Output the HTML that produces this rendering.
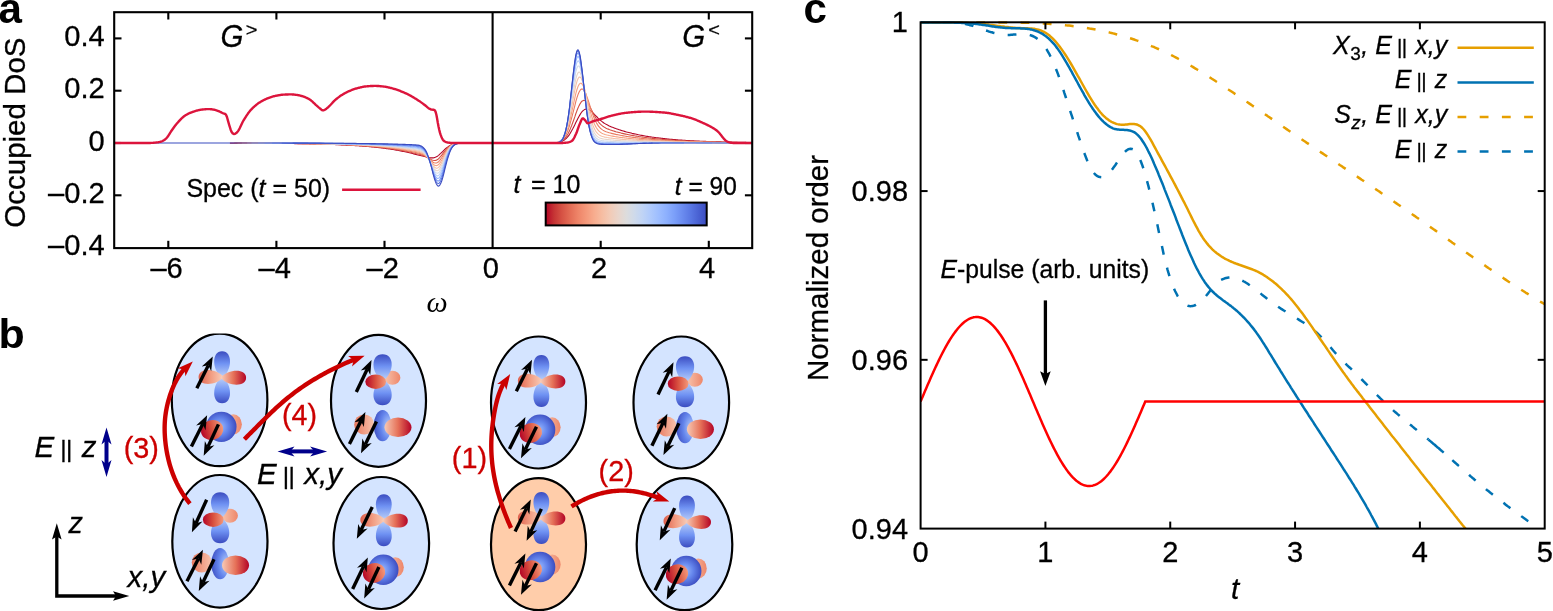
<!DOCTYPE html>
<html lang="en"><head><meta charset="utf-8"><title>Figure</title>
<style>
html,body{margin:0;padding:0;background:#fff;}
body{width:1553px;height:611px;overflow:hidden;}
svg{display:block;}
text{font-family:"Liberation Sans", sans-serif;}
.i{font-style:italic;}
.b{font-weight:bold;}
.om{font-family:"Liberation Serif","DejaVu Serif",serif;font-style:italic;}
</style></head><body>
<svg width="1553" height="611" viewBox="0 0 1553 611">
<rect x="0" y="0" width="1553" height="611" fill="#fff"/>

<defs>
<linearGradient id="cbar" x1="0" y1="0" x2="1" y2="0"><stop offset="0.000" stop-color="#b40426"/><stop offset="0.050" stop-color="#c53334"/><stop offset="0.100" stop-color="#d65244"/><stop offset="0.150" stop-color="#e36c55"/><stop offset="0.200" stop-color="#ee8468"/><stop offset="0.250" stop-color="#f4987a"/><stop offset="0.300" stop-color="#f7ac8e"/><stop offset="0.350" stop-color="#f6bda2"/><stop offset="0.400" stop-color="#f2cbb7"/><stop offset="0.450" stop-color="#e9d5cb"/><stop offset="0.500" stop-color="#dddcdc"/><stop offset="0.550" stop-color="#cfdaea"/><stop offset="0.600" stop-color="#c0d4f5"/><stop offset="0.650" stop-color="#afcafc"/><stop offset="0.700" stop-color="#9ebeff"/><stop offset="0.750" stop-color="#8db0fe"/><stop offset="0.800" stop-color="#7b9ff9"/><stop offset="0.850" stop-color="#6a8bef"/><stop offset="0.900" stop-color="#5977e3"/><stop offset="0.950" stop-color="#4961d2"/><stop offset="1.000" stop-color="#3b4cc0"/></linearGradient>

<linearGradient id="gPB" x1="0" y1="0" x2="0" y2="1"><stop offset="0" stop-color="#3b4cc0"/><stop offset="0.45" stop-color="#6f92f3"/><stop offset="1" stop-color="#c3d6f8"/></linearGradient>
<linearGradient id="gPR" x1="0" y1="0" x2="0" y2="1"><stop offset="0" stop-color="#b40426"/><stop offset="0.5" stop-color="#e67259"/><stop offset="1" stop-color="#f8d0bd"/></linearGradient>
<linearGradient id="gPL" x1="0" y1="0" x2="0" y2="1"><stop offset="0" stop-color="#de604d"/><stop offset="0.5" stop-color="#f29d82"/><stop offset="1" stop-color="#f8d0bd"/></linearGradient>
<linearGradient id="gBT" x1="0" y1="0" x2="0" y2="1"><stop offset="0" stop-color="#3b4cc0"/><stop offset="0.45" stop-color="#6f92f3"/><stop offset="1" stop-color="#bcd2f7"/></linearGradient>
<linearGradient id="gBB" x1="0" y1="1" x2="0" y2="0"><stop offset="0" stop-color="#3b4cc0"/><stop offset="0.45" stop-color="#6f92f3"/><stop offset="1" stop-color="#bcd2f7"/></linearGradient>
<linearGradient id="gRR" x1="0" y1="0" x2="1" y2="0"><stop offset="0" stop-color="#f7c9b4"/><stop offset="0.5" stop-color="#e67259"/><stop offset="1" stop-color="#b40426"/></linearGradient>
<linearGradient id="gRL" x1="0" y1="0" x2="1" y2="0"><stop offset="0" stop-color="#e0654f"/><stop offset="0.5" stop-color="#f29d82"/><stop offset="1" stop-color="#f7c9b4"/></linearGradient>
<linearGradient id="gRF" x1="0" y1="0" x2="1" y2="0"><stop offset="0" stop-color="#b40426"/><stop offset="0.5" stop-color="#d9513f"/><stop offset="1" stop-color="#f4997b"/></linearGradient>
<radialGradient id="gSal" cx="0.5" cy="0.5" r="0.6"><stop offset="0" stop-color="#f8cdb9"/><stop offset="1" stop-color="#ee8669"/></radialGradient>
<linearGradient id="gSalL" x1="0" y1="0" x2="1" y2="0"><stop offset="0" stop-color="#e8775d"/><stop offset="1" stop-color="#f7c4ad"/></linearGradient>
<linearGradient id="gSalR" x1="0" y1="0" x2="1" y2="0"><stop offset="0" stop-color="#f7c4ad"/><stop offset="1" stop-color="#ee8669"/></linearGradient>
<radialGradient id="gSph" cx="0.45" cy="0.5" r="0.55"><stop offset="0" stop-color="#9dbdff"/><stop offset="0.5" stop-color="#6485ec"/><stop offset="1" stop-color="#3b4cc0"/></radialGradient>
<radialGradient id="gBV" cx="0.85" cy="0.5" r="0.9"><stop offset="0" stop-color="#b5cdfa"/><stop offset="0.5" stop-color="#6485ec"/><stop offset="1" stop-color="#3b4cc0"/></radialGradient>

</defs>
<g id="panel-a">
<line x1="168.30" y1="248.1" x2="168.30" y2="240.79999999999998" stroke="#000" stroke-width="2.1"/>
<line x1="168.30" y1="12.2" x2="168.30" y2="19.5" stroke="#000" stroke-width="2.1"/>
<line x1="276.40" y1="248.1" x2="276.40" y2="240.79999999999998" stroke="#000" stroke-width="2.1"/>
<line x1="276.40" y1="12.2" x2="276.40" y2="19.5" stroke="#000" stroke-width="2.1"/>
<line x1="384.50" y1="248.1" x2="384.50" y2="240.79999999999998" stroke="#000" stroke-width="2.1"/>
<line x1="384.50" y1="12.2" x2="384.50" y2="19.5" stroke="#000" stroke-width="2.1"/>
<line x1="600.70" y1="248.1" x2="600.70" y2="240.79999999999998" stroke="#000" stroke-width="2.1"/>
<line x1="600.70" y1="12.2" x2="600.70" y2="19.5" stroke="#000" stroke-width="2.1"/>
<line x1="708.80" y1="248.1" x2="708.80" y2="240.79999999999998" stroke="#000" stroke-width="2.1"/>
<line x1="708.80" y1="12.2" x2="708.80" y2="19.5" stroke="#000" stroke-width="2.1"/>
<line x1="114.2" y1="195.30" x2="121.5" y2="195.30" stroke="#000" stroke-width="2.1"/>
<line x1="752.2" y1="195.30" x2="744.9000000000001" y2="195.30" stroke="#000" stroke-width="2.1"/>
<line x1="114.2" y1="143.00" x2="121.5" y2="143.00" stroke="#000" stroke-width="2.1"/>
<line x1="752.2" y1="143.00" x2="744.9000000000001" y2="143.00" stroke="#000" stroke-width="2.1"/>
<line x1="114.2" y1="90.70" x2="121.5" y2="90.70" stroke="#000" stroke-width="2.1"/>
<line x1="752.2" y1="90.70" x2="744.9000000000001" y2="90.70" stroke="#000" stroke-width="2.1"/>
<line x1="114.2" y1="38.40" x2="121.5" y2="38.40" stroke="#000" stroke-width="2.1"/>
<line x1="752.2" y1="38.40" x2="744.9000000000001" y2="38.40" stroke="#000" stroke-width="2.1"/>
<path d="M229.9,143.12 L231.0,143.12 L232.1,143.12 L233.2,143.13 L234.2,143.13 L235.3,143.13 L236.4,143.14 L237.5,143.14 L238.6,143.15 L239.6,143.15 L240.7,143.15 L241.8,143.16 L242.9,143.16 L244.0,143.17 L245.1,143.17 L246.1,143.17 L247.2,143.18 L248.3,143.18 L249.4,143.19 L250.5,143.19 L251.5,143.20 L252.6,143.21 L253.7,143.21 L254.8,143.22 L255.9,143.22 L256.9,143.23 L258.0,143.23 L259.1,143.24 L260.2,143.25 L261.3,143.25 L262.3,143.26 L263.4,143.27 L264.5,143.28 L265.6,143.28 L266.7,143.29 L267.8,143.30 L268.8,143.31 L269.9,143.31 L271.0,143.32 L272.1,143.33 L273.2,143.34 L274.2,143.35 L275.3,143.36 L276.4,143.37 L277.5,143.38 L278.6,143.39 L279.6,143.40 L280.7,143.41 L281.8,143.42 L282.9,143.43 L284.0,143.44 L285.0,143.46 L286.1,143.47 L287.2,143.48 L288.3,143.49 L289.4,143.51 L290.5,143.52 L291.5,143.54 L292.6,143.55 L293.7,143.57 L294.8,143.58 L295.9,143.60 L296.9,143.61 L298.0,143.63 L299.1,143.65 L300.2,143.66 L301.3,143.68 L302.3,143.70 L303.4,143.72 L304.5,143.74 L305.6,143.76 L306.7,143.78 L307.7,143.80 L308.8,143.82 L309.9,143.84 L311.0,143.87 L312.1,143.89 L313.2,143.91 L314.2,143.94 L315.3,143.96 L316.4,143.99 L317.5,144.02 L318.6,144.04 L319.6,144.07 L320.7,144.10 L321.8,144.13 L322.9,144.16 L324.0,144.19 L325.0,144.22 L326.1,144.26 L327.2,144.29 L328.3,144.33 L329.4,144.36 L330.5,144.40 L331.5,144.44 L332.6,144.48 L333.7,144.52 L334.8,144.56 L335.9,144.60 L336.9,144.64 L338.0,144.69 L339.1,144.73 L340.2,144.78 L341.3,144.83 L342.3,144.88 L343.4,144.93 L344.5,144.98 L345.6,145.03 L346.7,145.09 L347.7,145.14 L348.8,145.20 L349.9,145.26 L351.0,145.32 L352.1,145.39 L353.2,145.45 L354.2,145.52 L355.3,145.58 L356.4,145.65 L357.5,145.73 L358.6,145.80 L359.6,145.88 L360.7,145.95 L361.8,146.03 L362.9,146.12 L364.0,146.20 L365.0,146.29 L366.1,146.37 L367.2,146.47 L368.3,146.56 L369.4,146.66 L370.4,146.75 L371.5,146.86 L372.6,146.96 L373.7,147.07 L374.8,147.18 L375.9,147.29 L376.9,147.41 L378.0,147.52 L379.1,147.65 L380.2,147.77 L381.3,147.90 L382.3,148.03 L383.4,148.17 L384.5,148.31 L385.6,148.45 L386.7,148.60 L387.7,148.75 L388.8,148.91 L389.9,149.07 L391.0,149.23 L392.1,149.40 L393.1,149.57 L394.2,149.75 L395.3,149.93 L396.4,150.12 L397.5,150.31 L398.6,150.51 L399.6,150.71 L400.7,150.92 L401.8,151.14 L402.9,151.35 L404.0,151.58 L405.0,151.81 L406.1,152.05 L407.2,152.29 L408.3,152.54 L409.4,152.79 L410.4,153.05 L411.5,153.31 L412.6,153.58 L413.7,153.85 L414.8,154.13 L415.8,154.40 L416.9,154.67 L418.0,154.95 L419.1,155.22 L420.2,155.49 L421.3,155.76 L422.3,156.03 L423.4,156.30 L424.5,156.57 L425.6,156.84 L426.7,157.10 L427.7,157.34 L428.8,157.57 L429.9,157.75 L431.0,157.87 L432.1,157.91 L433.1,157.84 L434.2,157.64 L435.3,157.30 L436.4,156.81 L437.5,156.16 L438.6,155.37 L439.6,154.45 L440.7,153.45 L441.8,152.38 L442.9,151.30 L444.0,150.22 L445.0,149.19 L446.1,148.23 L447.2,147.36 L448.3,146.59 L449.4,145.91 L450.4,145.34 L451.5,144.86 L452.6,144.46 L453.7,144.14 L454.8,143.88 L455.8,143.67 L456.9,143.51 L458.0,143.38 L459.1,143.28 L460.2,143.21 L461.3,143.15 L462.3,143.11 M553.1,142.89 L554.2,142.84 L555.3,142.77 L556.4,142.67 L557.5,142.53 L558.5,142.35 L559.6,142.11 L560.7,141.79 L561.8,141.38 L562.9,140.86 L563.9,140.22 L565.0,139.43 L566.1,138.49 L567.2,137.37 L568.3,136.07 L569.4,134.59 L570.4,132.92 L571.5,131.09 L572.6,129.10 L573.7,127.00 L574.8,124.81 L575.8,122.59 L576.9,120.38 L578.0,118.24 L579.1,116.22 L580.2,114.38 L581.2,112.76 L582.3,111.41 L583.4,110.34 L584.5,109.59 L585.6,109.14 L586.6,109.01 L587.7,109.15 L588.8,109.56 L589.9,110.19 L591.0,111.00 L592.1,111.96 L593.1,113.01 L594.2,114.13 L595.3,115.27 L596.4,116.40 L597.5,117.51 L598.5,118.57 L599.6,119.57 L600.7,120.51 L601.8,121.39 L602.9,122.19 L603.9,122.94 L605.0,123.63 L606.1,124.27 L607.2,124.86 L608.3,125.41 L609.3,125.93 L610.4,126.42 L611.5,126.89 L612.6,127.34 L613.7,127.76 L614.8,128.17 L615.8,128.57 L616.9,128.96 L618.0,129.33 L619.1,129.69 L620.2,130.04 L621.2,130.38 L622.3,130.72 L623.4,131.04 L624.5,131.35 L625.6,131.66 L626.6,131.96 L627.7,132.25 L628.8,132.53 L629.9,132.81 L631.0,133.08 L632.0,133.34 L633.1,133.59 L634.2,133.84 L635.3,134.08 L636.4,134.31 L637.5,134.54 L638.5,134.77 L639.6,134.98 L640.7,135.19 L641.8,135.40 L642.9,135.60 L643.9,135.79 L645.0,135.98 L646.1,136.17 L647.2,136.35 L648.3,136.52 L649.3,136.69 L650.4,136.86 L651.5,137.02 L652.6,137.18 L653.7,137.33 L654.8,137.48 L655.8,137.63 L656.9,137.77 L658.0,137.90 L659.1,138.04 L660.2,138.17 L661.2,138.30 L662.3,138.42 L663.4,138.54 L664.5,138.66 L665.6,138.77 L666.6,138.88 L667.7,138.99 L668.8,139.10 L669.9,139.20 L671.0,139.30 L672.0,139.40 L673.1,139.49 L674.2,139.58 L675.3,139.67 L676.4,139.76 L677.5,139.85 L678.5,139.93 L679.6,140.01 L680.7,140.09 L681.8,140.17 L682.9,140.24 L683.9,140.31 L685.0,140.38 L686.1,140.45 L687.2,140.52 L688.3,140.59 L689.3,140.65 L690.4,140.71 L691.5,140.77 L692.6,140.83 L693.7,140.89 L694.7,140.94 L695.8,141.00 L696.9,141.05 L698.0,141.10 L699.1,141.15 L700.2,141.20 L701.2,141.25 L702.3,141.29 L703.4,141.34 L704.5,141.38 L705.6,141.42 L706.6,141.47 L707.7,141.51 L708.8,141.55 L709.9,141.58 L711.0,141.62 L712.0,141.66 L713.1,141.69 L714.2,141.73 L715.3,141.76 L716.4,141.79 L717.4,141.82 L718.5,141.86 L719.6,141.89 L720.7,141.91 L721.8,141.94 L722.9,141.97 L723.9,142.00 L725.0,142.02 L726.1,142.05 L727.2,142.08 L728.3,142.10 L729.3,142.12 L730.4,142.15 L731.5,142.17 L732.6,142.19 L733.7,142.21 L734.7,142.23 L735.8,142.25 L736.9,142.27 L738.0,142.29 L739.1,142.31 L740.1,142.33 L741.2,142.35 L742.3,142.36 L743.4,142.38 L744.5,142.40 L745.6,142.41 L746.6,142.43 L747.7,142.44 L748.8,142.46 L749.9,142.47 L751.0,142.49 L752.0,142.50" fill="none" stroke="#b40426" stroke-width="1.1" stroke-linejoin="round"/>
<path d="M234.2,143.12 L235.3,143.12 L236.4,143.13 L237.5,143.13 L238.6,143.13 L239.6,143.14 L240.7,143.14 L241.8,143.14 L242.9,143.15 L244.0,143.15 L245.1,143.16 L246.1,143.16 L247.2,143.16 L248.3,143.17 L249.4,143.17 L250.5,143.18 L251.5,143.18 L252.6,143.19 L253.7,143.19 L254.8,143.20 L255.9,143.20 L256.9,143.21 L258.0,143.21 L259.1,143.22 L260.2,143.23 L261.3,143.23 L262.3,143.24 L263.4,143.25 L264.5,143.25 L265.6,143.26 L266.7,143.27 L267.8,143.27 L268.8,143.28 L269.9,143.29 L271.0,143.30 L272.1,143.30 L273.2,143.31 L274.2,143.32 L275.3,143.33 L276.4,143.34 L277.5,143.35 L278.6,143.36 L279.6,143.37 L280.7,143.38 L281.8,143.39 L282.9,143.40 L284.0,143.41 L285.0,143.42 L286.1,143.43 L287.2,143.44 L288.3,143.45 L289.4,143.46 L290.5,143.48 L291.5,143.49 L292.6,143.50 L293.7,143.52 L294.8,143.53 L295.9,143.55 L296.9,143.56 L298.0,143.58 L299.1,143.59 L300.2,143.61 L301.3,143.62 L302.3,143.64 L303.4,143.66 L304.5,143.68 L305.6,143.69 L306.7,143.71 L307.7,143.73 L308.8,143.75 L309.9,143.77 L311.0,143.79 L312.1,143.81 L313.2,143.84 L314.2,143.86 L315.3,143.88 L316.4,143.91 L317.5,143.93 L318.6,143.96 L319.6,143.98 L320.7,144.01 L321.8,144.03 L322.9,144.06 L324.0,144.09 L325.0,144.12 L326.1,144.15 L327.2,144.18 L328.3,144.21 L329.4,144.25 L330.5,144.28 L331.5,144.32 L332.6,144.35 L333.7,144.39 L334.8,144.42 L335.9,144.46 L336.9,144.50 L338.0,144.54 L339.1,144.59 L340.2,144.63 L341.3,144.67 L342.3,144.72 L343.4,144.76 L344.5,144.81 L345.6,144.86 L346.7,144.91 L347.7,144.96 L348.8,145.02 L349.9,145.07 L351.0,145.13 L352.1,145.18 L353.2,145.24 L354.2,145.30 L355.3,145.36 L356.4,145.43 L357.5,145.49 L358.6,145.56 L359.6,145.63 L360.7,145.70 L361.8,145.78 L362.9,145.85 L364.0,145.93 L365.0,146.01 L366.1,146.09 L367.2,146.17 L368.3,146.26 L369.4,146.34 L370.4,146.44 L371.5,146.53 L372.6,146.62 L373.7,146.72 L374.8,146.82 L375.9,146.93 L376.9,147.03 L378.0,147.14 L379.1,147.25 L380.2,147.37 L381.3,147.49 L382.3,147.61 L383.4,147.73 L384.5,147.86 L385.6,147.99 L386.7,148.12 L387.7,148.26 L388.8,148.41 L389.9,148.55 L391.0,148.70 L392.1,148.86 L393.1,149.01 L394.2,149.18 L395.3,149.34 L396.4,149.51 L397.5,149.69 L398.6,149.87 L399.6,150.06 L400.7,150.25 L401.8,150.44 L402.9,150.64 L404.0,150.85 L405.0,151.06 L406.1,151.28 L407.2,151.50 L408.3,151.73 L409.4,151.96 L410.4,152.20 L411.5,152.44 L412.6,152.69 L413.7,152.94 L414.8,153.19 L415.8,153.45 L416.9,153.71 L418.0,153.98 L419.1,154.26 L420.2,154.56 L421.3,154.88 L422.3,155.23 L423.4,155.61 L424.5,156.04 L425.6,156.53 L426.7,157.06 L427.7,157.64 L428.8,158.25 L429.9,158.86 L431.0,159.43 L432.1,159.93 L433.1,160.29 L434.2,160.47 L435.3,160.43 L436.4,160.14 L437.5,159.58 L438.6,158.75 L439.6,157.70 L440.7,156.46 L441.8,155.08 L442.9,153.64 L444.0,152.19 L445.0,150.79 L446.1,149.49 L447.2,148.31 L448.3,147.28 L449.4,146.40 L450.4,145.66 L451.5,145.06 L452.6,144.58 L453.7,144.20 L454.8,143.90 L455.8,143.67 L456.9,143.50 L458.0,143.37 L459.1,143.27 L460.2,143.20 L461.3,143.14 L462.3,143.10 M553.1,142.88 L554.2,142.82 L555.3,142.74 L556.4,142.62 L557.5,142.44 L558.5,142.21 L559.6,141.89 L560.7,141.46 L561.8,140.91 L562.9,140.19 L563.9,139.29 L565.0,138.17 L566.1,136.81 L567.2,135.18 L568.3,133.27 L569.4,131.09 L570.4,128.63 L571.5,125.93 L572.6,123.03 L573.7,119.98 L574.8,116.88 L575.8,113.79 L576.9,110.82 L578.0,108.07 L579.1,105.63 L580.2,103.59 L581.2,102.01 L582.3,100.95 L583.4,100.42 L584.5,100.43 L585.6,100.96 L586.6,101.94 L587.7,103.31 L588.8,105.00 L589.9,106.91 L591.0,108.97 L592.1,111.09 L593.1,113.20 L594.2,115.24 L595.3,117.16 L596.4,118.94 L597.5,120.55 L598.5,121.99 L599.6,123.27 L600.7,124.38 L601.8,125.35 L602.9,126.20 L603.9,126.93 L605.0,127.58 L606.1,128.15 L607.2,128.67 L608.3,129.13 L609.3,129.56 L610.4,129.96 L611.5,130.33 L612.6,130.69 L613.7,131.03 L614.8,131.35 L615.8,131.66 L616.9,131.97 L618.0,132.26 L619.1,132.54 L620.2,132.82 L621.2,133.09 L622.3,133.35 L623.4,133.60 L624.5,133.85 L625.6,134.09 L626.6,134.32 L627.7,134.55 L628.8,134.77 L629.9,134.98 L631.0,135.19 L632.0,135.39 L633.1,135.59 L634.2,135.78 L635.3,135.97 L636.4,136.15 L637.5,136.33 L638.5,136.50 L639.6,136.67 L640.7,136.83 L641.8,136.99 L642.9,137.15 L643.9,137.30 L645.0,137.45 L646.1,137.59 L647.2,137.73 L648.3,137.87 L649.3,138.00 L650.4,138.13 L651.5,138.26 L652.6,138.38 L653.7,138.50 L654.8,138.62 L655.8,138.73 L656.9,138.85 L658.0,138.95 L659.1,139.06 L660.2,139.16 L661.2,139.26 L662.3,139.36 L663.4,139.46 L664.5,139.55 L665.6,139.64 L666.6,139.73 L667.7,139.81 L668.8,139.90 L669.9,139.98 L671.0,140.06 L672.0,140.13 L673.1,140.21 L674.2,140.28 L675.3,140.35 L676.4,140.42 L677.5,140.49 L678.5,140.56 L679.6,140.62 L680.7,140.68 L681.8,140.75 L682.9,140.81 L683.9,140.86 L685.0,140.92 L686.1,140.97 L687.2,141.03 L688.3,141.08 L689.3,141.13 L690.4,141.18 L691.5,141.23 L692.6,141.27 L693.7,141.32 L694.7,141.36 L695.8,141.41 L696.9,141.45 L698.0,141.49 L699.1,141.53 L700.2,141.57 L701.2,141.60 L702.3,141.64 L703.4,141.68 L704.5,141.71 L705.6,141.75 L706.6,141.78 L707.7,141.81 L708.8,141.84 L709.9,141.87 L711.0,141.90 L712.0,141.93 L713.1,141.96 L714.2,141.99 L715.3,142.01 L716.4,142.04 L717.4,142.06 L718.5,142.09 L719.6,142.11 L720.7,142.14 L721.8,142.16 L722.9,142.18 L723.9,142.20 L725.0,142.22 L726.1,142.24 L727.2,142.26 L728.3,142.28 L729.3,142.30 L730.4,142.32 L731.5,142.34 L732.6,142.36 L733.7,142.37 L734.7,142.39 L735.8,142.41 L736.9,142.42 L738.0,142.44 L739.1,142.45 L740.1,142.47 L741.2,142.48 L742.3,142.49 L743.4,142.51 L744.5,142.52 L745.6,142.53 L746.6,142.54 L747.7,142.56 L748.8,142.57 L749.9,142.58 L751.0,142.59 L752.0,142.60" fill="none" stroke="#d44e41" stroke-width="1.1" stroke-linejoin="round"/>
<path d="M237.5,143.12 L238.6,143.12 L239.6,143.12 L240.7,143.13 L241.8,143.13 L242.9,143.13 L244.0,143.14 L245.1,143.14 L246.1,143.15 L247.2,143.15 L248.3,143.15 L249.4,143.16 L250.5,143.16 L251.5,143.17 L252.6,143.17 L253.7,143.18 L254.8,143.18 L255.9,143.18 L256.9,143.19 L258.0,143.19 L259.1,143.20 L260.2,143.21 L261.3,143.21 L262.3,143.22 L263.4,143.22 L264.5,143.23 L265.6,143.23 L266.7,143.24 L267.8,143.25 L268.8,143.25 L269.9,143.26 L271.0,143.27 L272.1,143.28 L273.2,143.28 L274.2,143.29 L275.3,143.30 L276.4,143.31 L277.5,143.31 L278.6,143.32 L279.6,143.33 L280.7,143.34 L281.8,143.35 L282.9,143.36 L284.0,143.37 L285.0,143.38 L286.1,143.39 L287.2,143.40 L288.3,143.41 L289.4,143.42 L290.5,143.43 L291.5,143.45 L292.6,143.46 L293.7,143.47 L294.8,143.48 L295.9,143.50 L296.9,143.51 L298.0,143.52 L299.1,143.54 L300.2,143.55 L301.3,143.57 L302.3,143.58 L303.4,143.60 L304.5,143.61 L305.6,143.63 L306.7,143.65 L307.7,143.66 L308.8,143.68 L309.9,143.70 L311.0,143.72 L312.1,143.74 L313.2,143.76 L314.2,143.78 L315.3,143.80 L316.4,143.82 L317.5,143.84 L318.6,143.87 L319.6,143.89 L320.7,143.91 L321.8,143.94 L322.9,143.97 L324.0,143.99 L325.0,144.02 L326.1,144.05 L327.2,144.07 L328.3,144.10 L329.4,144.13 L330.5,144.16 L331.5,144.19 L332.6,144.23 L333.7,144.26 L334.8,144.29 L335.9,144.33 L336.9,144.36 L338.0,144.40 L339.1,144.44 L340.2,144.48 L341.3,144.52 L342.3,144.56 L343.4,144.60 L344.5,144.65 L345.6,144.69 L346.7,144.74 L347.7,144.78 L348.8,144.83 L349.9,144.88 L351.0,144.93 L352.1,144.98 L353.2,145.04 L354.2,145.09 L355.3,145.15 L356.4,145.21 L357.5,145.27 L358.6,145.33 L359.6,145.39 L360.7,145.45 L361.8,145.52 L362.9,145.59 L364.0,145.66 L365.0,145.73 L366.1,145.80 L367.2,145.88 L368.3,145.96 L369.4,146.04 L370.4,146.12 L371.5,146.20 L372.6,146.29 L373.7,146.38 L374.8,146.47 L375.9,146.56 L376.9,146.66 L378.0,146.76 L379.1,146.86 L380.2,146.97 L381.3,147.07 L382.3,147.18 L383.4,147.30 L384.5,147.41 L385.6,147.53 L386.7,147.65 L387.7,147.78 L388.8,147.91 L389.9,148.04 L391.0,148.18 L392.1,148.32 L393.1,148.46 L394.2,148.61 L395.3,148.76 L396.4,148.92 L397.5,149.08 L398.6,149.24 L399.6,149.41 L400.7,149.58 L401.8,149.76 L402.9,149.94 L404.0,150.13 L405.0,150.32 L406.1,150.52 L407.2,150.72 L408.3,150.93 L409.4,151.14 L410.4,151.35 L411.5,151.57 L412.6,151.80 L413.7,152.03 L414.8,152.26 L415.8,152.50 L416.9,152.75 L418.0,153.02 L419.1,153.30 L420.2,153.61 L421.3,153.96 L422.3,154.37 L423.4,154.85 L424.5,155.41 L425.6,156.07 L426.7,156.83 L427.7,157.69 L428.8,158.62 L429.9,159.61 L431.0,160.58 L432.1,161.48 L433.1,162.24 L434.2,162.79 L435.3,163.04 L436.4,162.96 L437.5,162.51 L438.6,161.70 L439.6,160.56 L440.7,159.13 L441.8,157.51 L442.9,155.77 L444.0,154.00 L445.0,152.28 L446.1,150.67 L447.2,149.21 L448.3,147.94 L449.4,146.87 L450.4,145.98 L451.5,145.26 L452.6,144.70 L453.7,144.26 L454.8,143.93 L455.8,143.68 L456.9,143.50 L458.0,143.36 L459.1,143.26 L460.2,143.19 L461.3,143.13 L462.3,143.09 M552.1,142.92 L553.1,142.88 L554.2,142.81 L555.3,142.71 L556.4,142.56 L557.5,142.34 L558.5,142.04 L559.6,141.62 L560.7,141.04 L561.8,140.28 L562.9,139.28 L563.9,138.00 L565.0,136.38 L566.1,134.40 L567.2,132.02 L568.3,129.22 L569.4,126.01 L570.4,122.41 L571.5,118.49 L572.6,114.33 L573.7,110.04 L574.8,105.77 L575.8,101.68 L576.9,97.92 L578.0,94.66 L579.1,92.05 L580.2,90.18 L581.2,89.14 L582.3,88.96 L583.4,89.61 L584.5,91.05 L585.6,93.17 L586.6,95.84 L587.7,98.92 L588.8,102.25 L589.9,105.69 L591.0,109.09 L592.1,112.37 L593.1,115.41 L594.2,118.18 L595.3,120.64 L596.4,122.78 L597.5,124.61 L598.5,126.15 L599.6,127.44 L600.7,128.50 L601.8,129.38 L602.9,130.11 L603.9,130.73 L605.0,131.24 L606.1,131.69 L607.2,132.09 L608.3,132.44 L609.3,132.77 L610.4,133.07 L611.5,133.35 L612.6,133.62 L613.7,133.88 L614.8,134.13 L615.8,134.37 L616.9,134.60 L618.0,134.83 L619.1,135.04 L620.2,135.25 L621.2,135.46 L622.3,135.65 L623.4,135.84 L624.5,136.03 L625.6,136.21 L626.6,136.39 L627.7,136.56 L628.8,136.72 L629.9,136.88 L631.0,137.04 L632.0,137.19 L633.1,137.34 L634.2,137.48 L635.3,137.62 L636.4,137.75 L637.5,137.89 L638.5,138.02 L639.6,138.14 L640.7,138.26 L641.8,138.38 L642.9,138.50 L643.9,138.61 L645.0,138.72 L646.1,138.83 L647.2,138.94 L648.3,139.04 L649.3,139.14 L650.4,139.24 L651.5,139.34 L652.6,139.43 L653.7,139.52 L654.8,139.61 L655.8,139.70 L656.9,139.78 L658.0,139.87 L659.1,139.95 L660.2,140.03 L661.2,140.10 L662.3,140.18 L663.4,140.25 L664.5,140.32 L665.6,140.39 L666.6,140.46 L667.7,140.53 L668.8,140.59 L669.9,140.65 L671.0,140.72 L672.0,140.78 L673.1,140.83 L674.2,140.89 L675.3,140.95 L676.4,141.00 L677.5,141.05 L678.5,141.10 L679.6,141.15 L680.7,141.20 L681.8,141.25 L682.9,141.30 L683.9,141.34 L685.0,141.38 L686.1,141.43 L687.2,141.47 L688.3,141.51 L689.3,141.55 L690.4,141.59 L691.5,141.62 L692.6,141.66 L693.7,141.69 L694.7,141.73 L695.8,141.76 L696.9,141.79 L698.0,141.83 L699.1,141.86 L700.2,141.89 L701.2,141.92 L702.3,141.95 L703.4,141.97 L704.5,142.00 L705.6,142.03 L706.6,142.05 L707.7,142.08 L708.8,142.10 L709.9,142.12 L711.0,142.15 L712.0,142.17 L713.1,142.19 L714.2,142.21 L715.3,142.23 L716.4,142.25 L717.4,142.27 L718.5,142.29 L719.6,142.31 L720.7,142.33 L721.8,142.35 L722.9,142.36 L723.9,142.38 L725.0,142.40 L726.1,142.41 L727.2,142.43 L728.3,142.44 L729.3,142.46 L730.4,142.47 L731.5,142.49 L732.6,142.50 L733.7,142.51 L734.7,142.53 L735.8,142.54 L736.9,142.55 L738.0,142.56 L739.1,142.57 L740.1,142.59 L741.2,142.60 L742.3,142.61 L743.4,142.62 L744.5,142.63 L745.6,142.64 L746.6,142.65 L747.7,142.66 L748.8,142.66 L749.9,142.67 L751.0,142.68 L752.0,142.69" fill="none" stroke="#ea7b60" stroke-width="1.1" stroke-linejoin="round"/>
<path d="M241.8,143.12 L242.9,143.12 L244.0,143.12 L245.1,143.13 L246.1,143.13 L247.2,143.13 L248.3,143.14 L249.4,143.14 L250.5,143.15 L251.5,143.15 L252.6,143.15 L253.7,143.16 L254.8,143.16 L255.9,143.17 L256.9,143.17 L258.0,143.18 L259.1,143.18 L260.2,143.19 L261.3,143.19 L262.3,143.20 L263.4,143.20 L264.5,143.21 L265.6,143.21 L266.7,143.22 L267.8,143.22 L268.8,143.23 L269.9,143.24 L271.0,143.24 L272.1,143.25 L273.2,143.25 L274.2,143.26 L275.3,143.27 L276.4,143.28 L277.5,143.28 L278.6,143.29 L279.6,143.30 L280.7,143.31 L281.8,143.32 L282.9,143.32 L284.0,143.33 L285.0,143.34 L286.1,143.35 L287.2,143.36 L288.3,143.37 L289.4,143.38 L290.5,143.39 L291.5,143.40 L292.6,143.41 L293.7,143.42 L294.8,143.43 L295.9,143.45 L296.9,143.46 L298.0,143.47 L299.1,143.48 L300.2,143.50 L301.3,143.51 L302.3,143.52 L303.4,143.54 L304.5,143.55 L305.6,143.57 L306.7,143.58 L307.7,143.60 L308.8,143.61 L309.9,143.63 L311.0,143.65 L312.1,143.67 L313.2,143.68 L314.2,143.70 L315.3,143.72 L316.4,143.74 L317.5,143.76 L318.6,143.78 L319.6,143.80 L320.7,143.82 L321.8,143.85 L322.9,143.87 L324.0,143.89 L325.0,143.92 L326.1,143.94 L327.2,143.97 L328.3,143.99 L329.4,144.02 L330.5,144.05 L331.5,144.08 L332.6,144.10 L333.7,144.13 L334.8,144.16 L335.9,144.20 L336.9,144.23 L338.0,144.26 L339.1,144.30 L340.2,144.33 L341.3,144.37 L342.3,144.40 L343.4,144.44 L344.5,144.48 L345.6,144.52 L346.7,144.56 L347.7,144.60 L348.8,144.65 L349.9,144.69 L351.0,144.74 L352.1,144.78 L353.2,144.83 L354.2,144.88 L355.3,144.93 L356.4,144.99 L357.5,145.04 L358.6,145.09 L359.6,145.15 L360.7,145.21 L361.8,145.27 L362.9,145.33 L364.0,145.39 L365.0,145.46 L366.1,145.52 L367.2,145.59 L368.3,145.66 L369.4,145.73 L370.4,145.81 L371.5,145.88 L372.6,145.96 L373.7,146.04 L374.8,146.12 L375.9,146.21 L376.9,146.30 L378.0,146.39 L379.1,146.48 L380.2,146.57 L381.3,146.67 L382.3,146.77 L383.4,146.87 L384.5,146.97 L385.6,147.08 L386.7,147.19 L387.7,147.30 L388.8,147.42 L389.9,147.54 L391.0,147.66 L392.1,147.79 L393.1,147.92 L394.2,148.05 L395.3,148.19 L396.4,148.33 L397.5,148.47 L398.6,148.62 L399.6,148.77 L400.7,148.93 L401.8,149.09 L402.9,149.25 L404.0,149.42 L405.0,149.59 L406.1,149.77 L407.2,149.95 L408.3,150.14 L409.4,150.33 L410.4,150.52 L411.5,150.72 L412.6,150.92 L413.7,151.13 L414.8,151.35 L415.8,151.57 L416.9,151.80 L418.0,152.06 L419.1,152.34 L420.2,152.66 L421.3,153.04 L422.3,153.49 L423.4,154.05 L424.5,154.72 L425.6,155.54 L426.7,156.50 L427.7,157.62 L428.8,158.86 L429.9,160.19 L431.0,161.54 L432.1,162.85 L433.1,164.00 L434.2,164.90 L435.3,165.46 L436.4,165.61 L437.5,165.30 L438.6,164.53 L439.6,163.33 L440.7,161.76 L441.8,159.92 L442.9,157.90 L444.0,155.83 L445.0,153.79 L446.1,151.88 L447.2,150.15 L448.3,148.64 L449.4,147.37 L450.4,146.32 L451.5,145.49 L452.6,144.84 L453.7,144.34 L454.8,143.97 L455.8,143.70 L456.9,143.50 L458.0,143.35 L459.1,143.25 L460.2,143.18 L461.3,143.12 L462.3,143.09 M553.1,142.89 L554.2,142.82 L555.3,142.72 L556.4,142.56 L557.5,142.33 L558.5,142.00 L559.6,141.53 L560.7,140.87 L561.8,139.98 L562.9,138.79 L563.9,137.24 L565.0,135.28 L566.1,132.84 L567.2,129.90 L568.3,126.43 L569.4,122.45 L570.4,118.01 L571.5,113.22 L572.6,108.19 L573.7,103.12 L574.8,98.21 L575.8,93.67 L576.9,89.73 L578.0,86.58 L579.1,84.39 L580.2,83.26 L581.2,83.24 L582.3,84.30 L583.4,86.36 L584.5,89.28 L585.6,92.88 L586.6,96.94 L587.7,101.25 L588.8,105.62 L589.9,109.88 L591.0,113.87 L592.1,117.51 L593.1,120.74 L594.2,123.52 L595.3,125.87 L596.4,127.81 L597.5,129.40 L598.5,130.67 L599.6,131.68 L600.7,132.49 L601.8,133.13 L602.9,133.65 L603.9,134.08 L605.0,134.45 L606.1,134.76 L607.2,135.04 L608.3,135.29 L609.3,135.52 L610.4,135.74 L611.5,135.95 L612.6,136.15 L613.7,136.34 L614.8,136.53 L615.8,136.70 L616.9,136.87 L618.0,137.04 L619.1,137.20 L620.2,137.35 L621.2,137.50 L622.3,137.64 L623.4,137.78 L624.5,137.92 L625.6,138.04 L626.6,138.17 L627.7,138.29 L628.8,138.41 L629.9,138.52 L631.0,138.63 L632.0,138.74 L633.1,138.84 L634.2,138.94 L635.3,139.04 L636.4,139.14 L637.5,139.23 L638.5,139.32 L639.6,139.41 L640.7,139.49 L641.8,139.58 L642.9,139.66 L643.9,139.74 L645.0,139.82 L646.1,139.90 L647.2,139.97 L648.3,140.05 L649.3,140.12 L650.4,140.19 L651.5,140.26 L652.6,140.33 L653.7,140.40 L654.8,140.46 L655.8,140.52 L656.9,140.59 L658.0,140.65 L659.1,140.71 L660.2,140.77 L661.2,140.82 L662.3,140.88 L663.4,140.93 L664.5,140.99 L665.6,141.04 L666.6,141.09 L667.7,141.14 L668.8,141.19 L669.9,141.23 L671.0,141.28 L672.0,141.32 L673.1,141.37 L674.2,141.41 L675.3,141.45 L676.4,141.49 L677.5,141.53 L678.5,141.57 L679.6,141.61 L680.7,141.65 L681.8,141.68 L682.9,141.72 L683.9,141.75 L685.0,141.78 L686.1,141.81 L687.2,141.85 L688.3,141.88 L689.3,141.91 L690.4,141.93 L691.5,141.96 L692.6,141.99 L693.7,142.02 L694.7,142.04 L695.8,142.07 L696.9,142.09 L698.0,142.12 L699.1,142.14 L700.2,142.16 L701.2,142.18 L702.3,142.20 L703.4,142.23 L704.5,142.25 L705.6,142.27 L706.6,142.29 L707.7,142.30 L708.8,142.32 L709.9,142.34 L711.0,142.36 L712.0,142.37 L713.1,142.39 L714.2,142.41 L715.3,142.42 L716.4,142.44 L717.4,142.45 L718.5,142.47 L719.6,142.48 L720.7,142.49 L721.8,142.51 L722.9,142.52 L723.9,142.53 L725.0,142.55 L726.1,142.56 L727.2,142.57 L728.3,142.58 L729.3,142.59 L730.4,142.60 L731.5,142.61 L732.6,142.62 L733.7,142.63 L734.7,142.64 L735.8,142.65 L736.9,142.66 L738.0,142.67 L739.1,142.68 L740.1,142.69 L741.2,142.70 L742.3,142.70 L743.4,142.71 L744.5,142.72 L745.6,142.73 L746.6,142.73 L747.7,142.74 L748.8,142.75 L749.9,142.75 L751.0,142.76 L752.0,142.77" fill="none" stroke="#f6a283" stroke-width="1.1" stroke-linejoin="round"/>
<path d="M247.2,143.12 L248.3,143.12 L249.4,143.13 L250.5,143.13 L251.5,143.13 L252.6,143.14 L253.7,143.14 L254.8,143.14 L255.9,143.15 L256.9,143.15 L258.0,143.16 L259.1,143.16 L260.2,143.16 L261.3,143.17 L262.3,143.17 L263.4,143.18 L264.5,143.18 L265.6,143.19 L266.7,143.19 L267.8,143.20 L268.8,143.20 L269.9,143.21 L271.0,143.22 L272.1,143.22 L273.2,143.23 L274.2,143.23 L275.3,143.24 L276.4,143.25 L277.5,143.25 L278.6,143.26 L279.6,143.27 L280.7,143.27 L281.8,143.28 L282.9,143.29 L284.0,143.30 L285.0,143.30 L286.1,143.31 L287.2,143.32 L288.3,143.33 L289.4,143.34 L290.5,143.35 L291.5,143.36 L292.6,143.37 L293.7,143.38 L294.8,143.39 L295.9,143.40 L296.9,143.41 L298.0,143.42 L299.1,143.43 L300.2,143.44 L301.3,143.45 L302.3,143.47 L303.4,143.48 L304.5,143.49 L305.6,143.51 L306.7,143.52 L307.7,143.53 L308.8,143.55 L309.9,143.56 L311.0,143.58 L312.1,143.59 L313.2,143.61 L314.2,143.63 L315.3,143.64 L316.4,143.66 L317.5,143.68 L318.6,143.70 L319.6,143.71 L320.7,143.73 L321.8,143.75 L322.9,143.77 L324.0,143.79 L325.0,143.82 L326.1,143.84 L327.2,143.86 L328.3,143.88 L329.4,143.91 L330.5,143.93 L331.5,143.96 L332.6,143.98 L333.7,144.01 L334.8,144.04 L335.9,144.07 L336.9,144.09 L338.0,144.12 L339.1,144.15 L340.2,144.19 L341.3,144.22 L342.3,144.25 L343.4,144.28 L344.5,144.32 L345.6,144.35 L346.7,144.39 L347.7,144.43 L348.8,144.47 L349.9,144.51 L351.0,144.55 L352.1,144.59 L353.2,144.63 L354.2,144.68 L355.3,144.72 L356.4,144.77 L357.5,144.82 L358.6,144.87 L359.6,144.92 L360.7,144.97 L361.8,145.02 L362.9,145.08 L364.0,145.13 L365.0,145.19 L366.1,145.25 L367.2,145.31 L368.3,145.37 L369.4,145.44 L370.4,145.50 L371.5,145.57 L372.6,145.64 L373.7,145.71 L374.8,145.78 L375.9,145.86 L376.9,145.94 L378.0,146.02 L379.1,146.10 L380.2,146.18 L381.3,146.27 L382.3,146.35 L383.4,146.45 L384.5,146.54 L385.6,146.63 L386.7,146.73 L387.7,146.83 L388.8,146.94 L389.9,147.04 L391.0,147.15 L392.1,147.26 L393.1,147.38 L394.2,147.50 L395.3,147.62 L396.4,147.74 L397.5,147.87 L398.6,148.00 L399.6,148.14 L400.7,148.28 L401.8,148.42 L402.9,148.57 L404.0,148.72 L405.0,148.87 L406.1,149.03 L407.2,149.19 L408.3,149.36 L409.4,149.53 L410.4,149.70 L411.5,149.88 L412.6,150.06 L413.7,150.25 L414.8,150.44 L415.8,150.64 L416.9,150.86 L418.0,151.11 L419.1,151.38 L420.2,151.71 L421.3,152.11 L422.3,152.61 L423.4,153.23 L424.5,154.00 L425.6,154.96 L426.7,156.11 L427.7,157.46 L428.8,159.00 L429.9,160.66 L431.0,162.39 L432.1,164.08 L433.1,165.62 L434.2,166.89 L435.3,167.77 L436.4,168.18 L437.5,168.04 L438.6,167.34 L439.6,166.10 L440.7,164.41 L441.8,162.37 L442.9,160.09 L444.0,157.72 L445.0,155.38 L446.1,153.16 L447.2,151.15 L448.3,149.40 L449.4,147.91 L450.4,146.70 L451.5,145.74 L452.6,145.00 L453.7,144.43 L454.8,144.02 L455.8,143.72 L456.9,143.50 L458.0,143.35 L459.1,143.24 L460.2,143.17 L461.3,143.12 M553.1,142.91 L554.2,142.84 L555.3,142.75 L556.4,142.59 L557.5,142.36 L558.5,142.00 L559.6,141.49 L560.7,140.77 L561.8,139.76 L562.9,138.39 L563.9,136.59 L565.0,134.27 L566.1,131.37 L567.2,127.83 L568.3,123.65 L569.4,118.85 L570.4,113.51 L571.5,107.78 L572.6,101.86 L573.7,96.00 L574.8,90.47 L575.8,85.57 L576.9,81.57 L578.0,78.71 L579.1,77.15 L580.2,76.99 L581.2,78.20 L582.3,80.69 L583.4,84.29 L584.5,88.74 L585.6,93.78 L586.6,99.12 L587.7,104.50 L588.8,109.68 L589.9,114.49 L591.0,118.81 L592.1,122.56 L593.1,125.74 L594.2,128.35 L595.3,130.46 L596.4,132.12 L597.5,133.41 L598.5,134.40 L599.6,135.16 L600.7,135.74 L601.8,136.19 L602.9,136.55 L603.9,136.84 L605.0,137.09 L606.1,137.30 L607.2,137.50 L608.3,137.67 L609.3,137.84 L610.4,138.00 L611.5,138.15 L612.6,138.29 L613.7,138.43 L614.8,138.56 L615.8,138.68 L616.9,138.80 L618.0,138.92 L619.1,139.03 L620.2,139.13 L621.2,139.24 L622.3,139.33 L623.4,139.43 L624.5,139.51 L625.6,139.60 L626.6,139.68 L627.7,139.76 L628.8,139.84 L629.9,139.91 L631.0,139.98 L632.0,140.05 L633.1,140.12 L634.2,140.18 L635.3,140.24 L636.4,140.31 L637.5,140.36 L638.5,140.42 L639.6,140.48 L640.7,140.54 L641.8,140.59 L642.9,140.64 L643.9,140.70 L645.0,140.75 L646.1,140.80 L647.2,140.85 L648.3,140.90 L649.3,140.95 L650.4,140.99 L651.5,141.04 L652.6,141.09 L653.7,141.13 L654.8,141.18 L655.8,141.22 L656.9,141.26 L658.0,141.31 L659.1,141.35 L660.2,141.39 L661.2,141.43 L662.3,141.47 L663.4,141.51 L664.5,141.54 L665.6,141.58 L666.6,141.62 L667.7,141.65 L668.8,141.69 L669.9,141.72 L671.0,141.75 L672.0,141.79 L673.1,141.82 L674.2,141.85 L675.3,141.88 L676.4,141.91 L677.5,141.94 L678.5,141.96 L679.6,141.99 L680.7,142.02 L681.8,142.04 L682.9,142.07 L683.9,142.09 L685.0,142.12 L686.1,142.14 L687.2,142.16 L688.3,142.18 L689.3,142.21 L690.4,142.23 L691.5,142.25 L692.6,142.27 L693.7,142.29 L694.7,142.30 L695.8,142.32 L696.9,142.34 L698.0,142.36 L699.1,142.37 L700.2,142.39 L701.2,142.41 L702.3,142.42 L703.4,142.44 L704.5,142.45 L705.6,142.47 L706.6,142.48 L707.7,142.49 L708.8,142.51 L709.9,142.52 L711.0,142.53 L712.0,142.55 L713.1,142.56 L714.2,142.57 L715.3,142.58 L716.4,142.59 L717.4,142.60 L718.5,142.61 L719.6,142.62 L720.7,142.63 L721.8,142.64 L722.9,142.65 L723.9,142.66 L725.0,142.67 L726.1,142.68 L727.2,142.69 L728.3,142.70 L729.3,142.70 L730.4,142.71 L731.5,142.72 L732.6,142.73 L733.7,142.73 L734.7,142.74 L735.8,142.75 L736.9,142.75 L738.0,142.76 L739.1,142.77 L740.1,142.77 L741.2,142.78 L742.3,142.78 L743.4,142.79 L744.5,142.80 L745.6,142.80 L746.6,142.81 L747.7,142.81 L748.8,142.82 L749.9,142.82 L751.0,142.83 L752.0,142.83" fill="none" stroke="#f5c1a9" stroke-width="1.1" stroke-linejoin="round"/>
<path d="M251.5,143.12 L252.6,143.12 L253.7,143.12 L254.8,143.13 L255.9,143.13 L256.9,143.13 L258.0,143.14 L259.1,143.14 L260.2,143.14 L261.3,143.15 L262.3,143.15 L263.4,143.16 L264.5,143.16 L265.6,143.17 L266.7,143.17 L267.8,143.17 L268.8,143.18 L269.9,143.18 L271.0,143.19 L272.1,143.19 L273.2,143.20 L274.2,143.21 L275.3,143.21 L276.4,143.22 L277.5,143.22 L278.6,143.23 L279.6,143.23 L280.7,143.24 L281.8,143.25 L282.9,143.25 L284.0,143.26 L285.0,143.27 L286.1,143.27 L287.2,143.28 L288.3,143.29 L289.4,143.30 L290.5,143.31 L291.5,143.31 L292.6,143.32 L293.7,143.33 L294.8,143.34 L295.9,143.35 L296.9,143.36 L298.0,143.37 L299.1,143.38 L300.2,143.39 L301.3,143.40 L302.3,143.41 L303.4,143.42 L304.5,143.43 L305.6,143.44 L306.7,143.46 L307.7,143.47 L308.8,143.48 L309.9,143.49 L311.0,143.51 L312.1,143.52 L313.2,143.54 L314.2,143.55 L315.3,143.56 L316.4,143.58 L317.5,143.60 L318.6,143.61 L319.6,143.63 L320.7,143.65 L321.8,143.66 L322.9,143.68 L324.0,143.70 L325.0,143.72 L326.1,143.74 L327.2,143.76 L328.3,143.78 L329.4,143.80 L330.5,143.82 L331.5,143.84 L332.6,143.87 L333.7,143.89 L334.8,143.91 L335.9,143.94 L336.9,143.96 L338.0,143.99 L339.1,144.02 L340.2,144.04 L341.3,144.07 L342.3,144.10 L343.4,144.13 L344.5,144.16 L345.6,144.19 L346.7,144.22 L347.7,144.26 L348.8,144.29 L349.9,144.33 L351.0,144.36 L352.1,144.40 L353.2,144.44 L354.2,144.47 L355.3,144.51 L356.4,144.56 L357.5,144.60 L358.6,144.64 L359.6,144.69 L360.7,144.73 L361.8,144.78 L362.9,144.83 L364.0,144.88 L365.0,144.93 L366.1,144.98 L367.2,145.03 L368.3,145.09 L369.4,145.14 L370.4,145.20 L371.5,145.26 L372.6,145.32 L373.7,145.38 L374.8,145.45 L375.9,145.51 L376.9,145.58 L378.0,145.65 L379.1,145.72 L380.2,145.80 L381.3,145.87 L382.3,145.95 L383.4,146.03 L384.5,146.11 L385.6,146.20 L386.7,146.28 L387.7,146.37 L388.8,146.46 L389.9,146.56 L391.0,146.65 L392.1,146.75 L393.1,146.85 L394.2,146.96 L395.3,147.06 L396.4,147.17 L397.5,147.29 L398.6,147.40 L399.6,147.52 L400.7,147.64 L401.8,147.77 L402.9,147.90 L404.0,148.03 L405.0,148.16 L406.1,148.30 L407.2,148.45 L408.3,148.59 L409.4,148.74 L410.4,148.89 L411.5,149.05 L412.6,149.21 L413.7,149.38 L414.8,149.55 L415.8,149.74 L416.9,149.94 L418.0,150.17 L419.1,150.44 L420.2,150.77 L421.3,151.18 L422.3,151.71 L423.4,152.40 L424.5,153.26 L425.6,154.35 L426.7,155.68 L427.7,157.25 L428.8,159.06 L429.9,161.04 L431.0,163.13 L432.1,165.21 L433.1,167.15 L434.2,168.79 L435.3,170.02 L436.4,170.69 L437.5,170.74 L438.6,170.14 L439.6,168.90 L440.7,167.12 L441.8,164.89 L442.9,162.37 L444.0,159.71 L445.0,157.05 L446.1,154.53 L447.2,152.23 L448.3,150.22 L449.4,148.52 L450.4,147.13 L451.5,146.03 L452.6,145.18 L453.7,144.55 L454.8,144.08 L455.8,143.75 L456.9,143.51 L458.0,143.35 L459.1,143.24 L460.2,143.16 L461.3,143.11 M553.1,142.93 L554.2,142.87 L555.3,142.78 L556.4,142.64 L557.5,142.41 L558.5,142.07 L559.6,141.55 L560.7,140.79 L561.8,139.72 L562.9,138.24 L563.9,136.26 L565.0,133.67 L566.1,130.39 L567.2,126.36 L568.3,121.57 L569.4,116.06 L570.4,109.95 L571.5,103.42 L572.6,96.73 L573.7,90.22 L574.8,84.23 L575.8,79.12 L576.9,75.24 L578.0,72.82 L579.1,72.04 L580.2,72.92 L581.2,75.41 L582.3,79.29 L583.4,84.29 L584.5,90.07 L585.6,96.28 L586.6,102.57 L587.7,108.65 L588.8,114.28 L589.9,119.31 L591.0,123.64 L592.1,127.26 L593.1,130.20 L594.2,132.51 L595.3,134.30 L596.4,135.64 L597.5,136.65 L598.5,137.38 L599.6,137.93 L600.7,138.33 L601.8,138.64 L602.9,138.88 L603.9,139.07 L605.0,139.24 L606.1,139.39 L607.2,139.52 L608.3,139.64 L609.3,139.76 L610.4,139.87 L611.5,139.97 L612.6,140.07 L613.7,140.16 L614.8,140.25 L615.8,140.33 L616.9,140.41 L618.0,140.48 L619.1,140.55 L620.2,140.62 L621.2,140.68 L622.3,140.74 L623.4,140.79 L624.5,140.84 L625.6,140.89 L626.6,140.94 L627.7,140.98 L628.8,141.03 L629.9,141.07 L631.0,141.10 L632.0,141.14 L633.1,141.17 L634.2,141.21 L635.3,141.24 L636.4,141.27 L637.5,141.30 L638.5,141.33 L639.6,141.36 L640.7,141.39 L641.8,141.42 L642.9,141.45 L643.9,141.48 L645.0,141.51 L646.1,141.54 L647.2,141.57 L648.3,141.60 L649.3,141.62 L650.4,141.65 L651.5,141.68 L652.6,141.71 L653.7,141.74 L654.8,141.76 L655.8,141.79 L656.9,141.82 L658.0,141.85 L659.1,141.87 L660.2,141.90 L661.2,141.92 L662.3,141.95 L663.4,141.98 L664.5,142.00 L665.6,142.03 L666.6,142.05 L667.7,142.07 L668.8,142.10 L669.9,142.12 L671.0,142.14 L672.0,142.16 L673.1,142.18 L674.2,142.21 L675.3,142.23 L676.4,142.25 L677.5,142.27 L678.5,142.28 L679.6,142.30 L680.7,142.32 L681.8,142.34 L682.9,142.36 L683.9,142.37 L685.0,142.39 L686.1,142.41 L687.2,142.42 L688.3,142.44 L689.3,142.45 L690.4,142.47 L691.5,142.48 L692.6,142.49 L693.7,142.51 L694.7,142.52 L695.8,142.53 L696.9,142.54 L698.0,142.56 L699.1,142.57 L700.2,142.58 L701.2,142.59 L702.3,142.60 L703.4,142.61 L704.5,142.62 L705.6,142.63 L706.6,142.64 L707.7,142.65 L708.8,142.66 L709.9,142.67 L711.0,142.68 L712.0,142.69 L713.1,142.69 L714.2,142.70 L715.3,142.71 L716.4,142.72 L717.4,142.73 L718.5,142.73 L719.6,142.74 L720.7,142.75 L721.8,142.75 L722.9,142.76 L723.9,142.77 L725.0,142.77 L726.1,142.78 L727.2,142.78 L728.3,142.79 L729.3,142.80 L730.4,142.80 L731.5,142.81 L732.6,142.81 L733.7,142.82 L734.7,142.82 L735.8,142.83 L736.9,142.83 L738.0,142.83 L739.1,142.84 L740.1,142.84 L741.2,142.85 L742.3,142.85 L743.4,142.86 L744.5,142.86 L745.6,142.86 L746.6,142.87 L747.7,142.87 L748.8,142.87 L749.9,142.88 L751.0,142.88 L752.0,142.88" fill="none" stroke="#e8d6cc" stroke-width="1.1" stroke-linejoin="round"/>
<path d="M258.0,143.12 L259.1,143.12 L260.2,143.13 L261.3,143.13 L262.3,143.13 L263.4,143.14 L264.5,143.14 L265.6,143.14 L266.7,143.15 L267.8,143.15 L268.8,143.16 L269.9,143.16 L271.0,143.16 L272.1,143.17 L273.2,143.17 L274.2,143.18 L275.3,143.18 L276.4,143.19 L277.5,143.19 L278.6,143.20 L279.6,143.20 L280.7,143.21 L281.8,143.21 L282.9,143.22 L284.0,143.23 L285.0,143.23 L286.1,143.24 L287.2,143.24 L288.3,143.25 L289.4,143.26 L290.5,143.26 L291.5,143.27 L292.6,143.28 L293.7,143.29 L294.8,143.29 L295.9,143.30 L296.9,143.31 L298.0,143.32 L299.1,143.33 L300.2,143.34 L301.3,143.35 L302.3,143.36 L303.4,143.36 L304.5,143.37 L305.6,143.38 L306.7,143.39 L307.7,143.41 L308.8,143.42 L309.9,143.43 L311.0,143.44 L312.1,143.45 L313.2,143.46 L314.2,143.48 L315.3,143.49 L316.4,143.50 L317.5,143.52 L318.6,143.53 L319.6,143.54 L320.7,143.56 L321.8,143.57 L322.9,143.59 L324.0,143.61 L325.0,143.62 L326.1,143.64 L327.2,143.66 L328.3,143.67 L329.4,143.69 L330.5,143.71 L331.5,143.73 L332.6,143.75 L333.7,143.77 L334.8,143.79 L335.9,143.81 L336.9,143.83 L338.0,143.86 L339.1,143.88 L340.2,143.90 L341.3,143.93 L342.3,143.95 L343.4,143.98 L344.5,144.00 L345.6,144.03 L346.7,144.06 L347.7,144.09 L348.8,144.12 L349.9,144.15 L351.0,144.18 L352.1,144.21 L353.2,144.24 L354.2,144.28 L355.3,144.31 L356.4,144.35 L357.5,144.38 L358.6,144.42 L359.6,144.46 L360.7,144.50 L361.8,144.54 L362.9,144.58 L364.0,144.62 L365.0,144.67 L366.1,144.71 L367.2,144.76 L368.3,144.81 L369.4,144.85 L370.4,144.90 L371.5,144.96 L372.6,145.01 L373.7,145.06 L374.8,145.12 L375.9,145.18 L376.9,145.24 L378.0,145.30 L379.1,145.36 L380.2,145.42 L381.3,145.49 L382.3,145.55 L383.4,145.62 L384.5,145.69 L385.6,145.77 L386.7,145.84 L387.7,145.92 L388.8,146.00 L389.9,146.08 L391.0,146.16 L392.1,146.25 L393.1,146.33 L394.2,146.42 L395.3,146.52 L396.4,146.61 L397.5,146.71 L398.6,146.81 L399.6,146.91 L400.7,147.02 L401.8,147.13 L402.9,147.24 L404.0,147.35 L405.0,147.47 L406.1,147.59 L407.2,147.71 L408.3,147.84 L409.4,147.97 L410.4,148.10 L411.5,148.24 L412.6,148.38 L413.7,148.52 L414.8,148.68 L415.8,148.84 L416.9,149.03 L418.0,149.24 L419.1,149.51 L420.2,149.84 L421.3,150.26 L422.3,150.82 L423.4,151.55 L424.5,152.49 L425.6,153.69 L426.7,155.17 L427.7,156.95 L428.8,159.01 L429.9,161.29 L431.0,163.72 L432.1,166.17 L433.1,168.49 L434.2,170.52 L435.3,172.08 L436.4,173.05 L437.5,173.31 L438.6,172.83 L439.6,171.62 L440.7,169.76 L441.8,167.38 L442.9,164.64 L444.0,161.71 L445.0,158.76 L446.1,155.94 L447.2,153.35 L448.3,151.08 L449.4,149.16 L450.4,147.59 L451.5,146.34 L452.6,145.39 L453.7,144.67 L454.8,144.15 L455.8,143.79 L456.9,143.53 L458.0,143.35 L459.1,143.24 L460.2,143.16 L461.3,143.10 M554.2,142.90 L555.3,142.82 L556.4,142.69 L557.5,142.48 L558.5,142.14 L559.6,141.62 L560.7,140.85 L561.8,139.73 L562.9,138.15 L563.9,135.99 L565.0,133.13 L566.1,129.47 L567.2,124.92 L568.3,119.47 L569.4,113.18 L570.4,106.18 L571.5,98.73 L572.6,91.15 L573.7,83.86 L574.8,77.30 L575.8,71.91 L576.9,68.07 L578.0,66.07 L579.1,66.05 L580.2,68.01 L581.2,71.77 L582.3,77.05 L583.4,83.46 L584.5,90.55 L585.6,97.89 L586.6,105.08 L587.7,111.80 L588.8,117.83 L589.9,123.03 L591.0,127.36 L592.1,130.85 L593.1,133.58 L594.2,135.65 L595.3,137.19 L596.4,138.30 L597.5,139.09 L598.5,139.65 L599.6,140.05 L600.7,140.33 L601.8,140.54 L602.9,140.71 L603.9,140.84 L605.0,140.95 L606.1,141.05 L607.2,141.14 L608.3,141.22 L609.3,141.30 L610.4,141.37 L611.5,141.44 L612.6,141.50 L613.7,141.56 L614.8,141.61 L615.8,141.66 L616.9,141.71 L618.0,141.75 L619.1,141.78 L620.2,141.82 L621.2,141.85 L622.3,141.88 L623.4,141.90 L624.5,141.92 L625.6,141.94 L626.6,141.96 L627.7,141.97 L628.8,141.99 L629.9,142.00 L631.0,142.01 L632.0,142.02 L633.1,142.03 L634.2,142.04 L635.3,142.04 L636.4,142.05 L637.5,142.06 L638.5,142.07 L639.6,142.08 L640.7,142.08 L641.8,142.09 L642.9,142.10 L643.9,142.11 L645.0,142.12 L646.1,142.13 L647.2,142.14 L648.3,142.15 L649.3,142.17 L650.4,142.18 L651.5,142.19 L652.6,142.20 L653.7,142.22 L654.8,142.23 L655.8,142.24 L656.9,142.26 L658.0,142.27 L659.1,142.29 L660.2,142.30 L661.2,142.32 L662.3,142.33 L663.4,142.35 L664.5,142.36 L665.6,142.38 L666.6,142.39 L667.7,142.41 L668.8,142.42 L669.9,142.43 L671.0,142.45 L672.0,142.46 L673.1,142.48 L674.2,142.49 L675.3,142.50 L676.4,142.51 L677.5,142.53 L678.5,142.54 L679.6,142.55 L680.7,142.56 L681.8,142.57 L682.9,142.58 L683.9,142.60 L685.0,142.61 L686.1,142.62 L687.2,142.63 L688.3,142.64 L689.3,142.65 L690.4,142.66 L691.5,142.66 L692.6,142.67 L693.7,142.68 L694.7,142.69 L695.8,142.70 L696.9,142.71 L698.0,142.71 L699.1,142.72 L700.2,142.73 L701.2,142.74 L702.3,142.74 L703.4,142.75 L704.5,142.76 L705.6,142.76 L706.6,142.77 L707.7,142.77 L708.8,142.78 L709.9,142.79 L711.0,142.79 L712.0,142.80 L713.1,142.80 L714.2,142.81 L715.3,142.81 L716.4,142.82 L717.4,142.82 L718.5,142.83 L719.6,142.83 L720.7,142.84 L721.8,142.84 L722.9,142.84 L723.9,142.85 L725.0,142.85 L726.1,142.86 L727.2,142.86 L728.3,142.86 L729.3,142.87 L730.4,142.87 L731.5,142.87 L732.6,142.88 L733.7,142.88" fill="none" stroke="#d1dae9" stroke-width="1.1" stroke-linejoin="round"/>
<path d="M264.5,143.12 L265.6,143.12 L266.7,143.12 L267.8,143.13 L268.8,143.13 L269.9,143.14 L271.0,143.14 L272.1,143.14 L273.2,143.15 L274.2,143.15 L275.3,143.15 L276.4,143.16 L277.5,143.16 L278.6,143.17 L279.6,143.17 L280.7,143.18 L281.8,143.18 L282.9,143.19 L284.0,143.19 L285.0,143.20 L286.1,143.20 L287.2,143.21 L288.3,143.21 L289.4,143.22 L290.5,143.22 L291.5,143.23 L292.6,143.24 L293.7,143.24 L294.8,143.25 L295.9,143.26 L296.9,143.26 L298.0,143.27 L299.1,143.28 L300.2,143.29 L301.3,143.29 L302.3,143.30 L303.4,143.31 L304.5,143.32 L305.6,143.33 L306.7,143.34 L307.7,143.34 L308.8,143.35 L309.9,143.36 L311.0,143.37 L312.1,143.38 L313.2,143.39 L314.2,143.40 L315.3,143.41 L316.4,143.43 L317.5,143.44 L318.6,143.45 L319.6,143.46 L320.7,143.47 L321.8,143.49 L322.9,143.50 L324.0,143.51 L325.0,143.53 L326.1,143.54 L327.2,143.56 L328.3,143.57 L329.4,143.59 L330.5,143.60 L331.5,143.62 L332.6,143.64 L333.7,143.65 L334.8,143.67 L335.9,143.69 L336.9,143.71 L338.0,143.73 L339.1,143.75 L340.2,143.77 L341.3,143.79 L342.3,143.81 L343.4,143.83 L344.5,143.85 L345.6,143.88 L346.7,143.90 L347.7,143.92 L348.8,143.95 L349.9,143.97 L351.0,144.00 L352.1,144.03 L353.2,144.05 L354.2,144.08 L355.3,144.11 L356.4,144.14 L357.5,144.17 L358.6,144.21 L359.6,144.24 L360.7,144.27 L361.8,144.31 L362.9,144.34 L364.0,144.38 L365.0,144.41 L366.1,144.45 L367.2,144.49 L368.3,144.53 L369.4,144.57 L370.4,144.62 L371.5,144.66 L372.6,144.70 L373.7,144.75 L374.8,144.80 L375.9,144.85 L376.9,144.90 L378.0,144.95 L379.1,145.00 L380.2,145.05 L381.3,145.11 L382.3,145.17 L383.4,145.23 L384.5,145.29 L385.6,145.35 L386.7,145.41 L387.7,145.48 L388.8,145.54 L389.9,145.61 L391.0,145.68 L392.1,145.75 L393.1,145.83 L394.2,145.91 L395.3,145.98 L396.4,146.06 L397.5,146.15 L398.6,146.23 L399.6,146.32 L400.7,146.41 L401.8,146.50 L402.9,146.60 L404.0,146.69 L405.0,146.79 L406.1,146.89 L407.2,147.00 L408.3,147.11 L409.4,147.22 L410.4,147.33 L411.5,147.45 L412.6,147.56 L413.7,147.69 L414.8,147.82 L415.8,147.97 L416.9,148.14 L418.0,148.34 L419.1,148.59 L420.2,148.92 L421.3,149.35 L422.3,149.93 L423.4,150.70 L424.5,151.71 L425.6,153.02 L426.7,154.64 L427.7,156.61 L428.8,158.90 L429.9,161.48 L431.0,164.24 L432.1,167.06 L433.1,169.77 L434.2,172.18 L435.3,174.10 L436.4,175.38 L437.5,175.88 L438.6,175.55 L439.6,174.39 L440.7,172.48 L441.8,169.96 L442.9,167.01 L444.0,163.82 L445.0,160.57 L446.1,157.44 L447.2,154.56 L448.3,152.02 L449.4,149.86 L450.4,148.10 L451.5,146.70 L452.6,145.62 L453.7,144.82 L454.8,144.24 L455.8,143.83 L456.9,143.55 L458.0,143.36 L459.1,143.24 L460.2,143.15 L461.3,143.10 M554.2,142.92 L555.3,142.86 L556.4,142.74 L557.5,142.55 L558.5,142.23 L559.6,141.74 L560.7,140.98 L561.8,139.85 L562.9,138.23 L563.9,135.98 L565.0,132.95 L566.1,129.01 L567.2,124.08 L568.3,118.12 L569.4,111.19 L570.4,103.46 L571.5,95.23 L572.6,86.89 L573.7,78.92 L574.8,71.87 L575.8,66.23 L576.9,62.45 L578.0,60.84 L579.1,61.51 L580.2,64.41 L581.2,69.29 L582.3,75.76 L583.4,83.32 L584.5,91.46 L585.6,99.66 L586.6,107.49 L587.7,114.64 L588.8,120.87 L589.9,126.12 L591.0,130.36 L592.1,133.68 L593.1,136.19 L594.2,138.04 L595.3,139.36 L596.4,140.28 L597.5,140.91 L598.5,141.34 L599.6,141.64 L600.7,141.84 L601.8,141.99 L602.9,142.10 L603.9,142.19 L605.0,142.27 L606.1,142.34 L607.2,142.40 L608.3,142.45 L609.3,142.50 L610.4,142.54 L611.5,142.58 L612.6,142.62 L613.7,142.65 L614.8,142.68 L615.8,142.70 L616.9,142.72 L618.0,142.74 L619.1,142.75 L620.2,142.76 L621.2,142.76 L622.3,142.76 L623.4,142.76 L624.5,142.76 L625.6,142.76 L626.6,142.75 L627.7,142.74 L628.8,142.73 L629.9,142.72 L631.0,142.71 L632.0,142.70 L633.1,142.69 L634.2,142.68 L635.3,142.67 L636.4,142.65 L637.5,142.64 L638.5,142.63 L639.6,142.62 L640.7,142.61 L641.8,142.61 L642.9,142.60 L643.9,142.59 L645.0,142.59 L646.1,142.58 L647.2,142.58 L648.3,142.58 L649.3,142.58 L650.4,142.58 L651.5,142.58 L652.6,142.58 L653.7,142.58 L654.8,142.59 L655.8,142.59 L656.9,142.59 L658.0,142.60 L659.1,142.60 L660.2,142.61 L661.2,142.62 L662.3,142.62 L663.4,142.63 L664.5,142.64 L665.6,142.64 L666.6,142.65 L667.7,142.66 L668.8,142.67 L669.9,142.67 L671.0,142.68 L672.0,142.69 L673.1,142.70 L674.2,142.70 L675.3,142.71 L676.4,142.72 L677.5,142.72 L678.5,142.73 L679.6,142.74 L680.7,142.74 L681.8,142.75 L682.9,142.76 L683.9,142.76 L685.0,142.77 L686.1,142.78 L687.2,142.78 L688.3,142.79 L689.3,142.79 L690.4,142.80 L691.5,142.80 L692.6,142.81 L693.7,142.81 L694.7,142.82 L695.8,142.82 L696.9,142.83 L698.0,142.83 L699.1,142.84 L700.2,142.84 L701.2,142.85 L702.3,142.85 L703.4,142.85 L704.5,142.86 L705.6,142.86 L706.6,142.86 L707.7,142.87 L708.8,142.87 L709.9,142.88 L711.0,142.88 L712.0,142.88" fill="none" stroke="#b5cdfa" stroke-width="1.1" stroke-linejoin="round"/>
<path d="M272.1,143.12 L273.2,143.12 L274.2,143.12 L275.3,143.13 L276.4,143.13 L277.5,143.13 L278.6,143.14 L279.6,143.14 L280.7,143.15 L281.8,143.15 L282.9,143.15 L284.0,143.16 L285.0,143.16 L286.1,143.17 L287.2,143.17 L288.3,143.18 L289.4,143.18 L290.5,143.19 L291.5,143.19 L292.6,143.20 L293.7,143.20 L294.8,143.21 L295.9,143.21 L296.9,143.22 L298.0,143.22 L299.1,143.23 L300.2,143.24 L301.3,143.24 L302.3,143.25 L303.4,143.26 L304.5,143.26 L305.6,143.27 L306.7,143.28 L307.7,143.28 L308.8,143.29 L309.9,143.30 L311.0,143.31 L312.1,143.32 L313.2,143.33 L314.2,143.33 L315.3,143.34 L316.4,143.35 L317.5,143.36 L318.6,143.37 L319.6,143.38 L320.7,143.39 L321.8,143.40 L322.9,143.41 L324.0,143.42 L325.0,143.44 L326.1,143.45 L327.2,143.46 L328.3,143.47 L329.4,143.48 L330.5,143.50 L331.5,143.51 L332.6,143.53 L333.7,143.54 L334.8,143.55 L335.9,143.57 L336.9,143.58 L338.0,143.60 L339.1,143.62 L340.2,143.63 L341.3,143.65 L342.3,143.67 L343.4,143.69 L344.5,143.70 L345.6,143.72 L346.7,143.74 L347.7,143.76 L348.8,143.78 L349.9,143.80 L351.0,143.83 L352.1,143.85 L353.2,143.87 L354.2,143.90 L355.3,143.92 L356.4,143.94 L357.5,143.97 L358.6,144.00 L359.6,144.02 L360.7,144.05 L361.8,144.08 L362.9,144.11 L364.0,144.14 L365.0,144.17 L366.1,144.20 L367.2,144.23 L368.3,144.27 L369.4,144.30 L370.4,144.34 L371.5,144.37 L372.6,144.41 L373.7,144.45 L374.8,144.49 L375.9,144.53 L376.9,144.57 L378.0,144.61 L379.1,144.65 L380.2,144.70 L381.3,144.74 L382.3,144.79 L383.4,144.84 L384.5,144.89 L385.6,144.94 L386.7,144.99 L387.7,145.05 L388.8,145.10 L389.9,145.16 L391.0,145.22 L392.1,145.28 L393.1,145.34 L394.2,145.40 L395.3,145.47 L396.4,145.53 L397.5,145.60 L398.6,145.67 L399.6,145.74 L400.7,145.82 L401.8,145.89 L402.9,145.97 L404.0,146.05 L405.0,146.14 L406.1,146.22 L407.2,146.31 L408.3,146.40 L409.4,146.49 L410.4,146.58 L411.5,146.68 L412.6,146.78 L413.7,146.88 L414.8,147.00 L415.8,147.12 L416.9,147.27 L418.0,147.46 L419.1,147.70 L420.2,148.02 L421.3,148.46 L422.3,149.06 L423.4,149.86 L424.5,150.94 L425.6,152.33 L426.7,154.09 L427.7,156.24 L428.8,158.76 L429.9,161.62 L431.0,164.71 L432.1,167.89 L433.1,170.99 L434.2,173.79 L435.3,176.09 L436.4,177.69 L437.5,178.45 L438.6,178.29 L439.6,177.20 L440.7,175.27 L441.8,172.64 L442.9,169.48 L444.0,166.03 L445.0,162.49 L446.1,159.05 L447.2,155.87 L448.3,153.05 L449.4,150.64 L450.4,148.66 L451.5,147.10 L452.6,145.89 L453.7,145.00 L454.8,144.35 L455.8,143.90 L456.9,143.59 L458.0,143.38 L459.1,143.24 L460.2,143.15 L461.3,143.10 M555.3,142.89 L556.4,142.79 L557.5,142.61 L558.5,142.32 L559.6,141.85 L560.7,141.12 L561.8,140.01 L562.9,138.39 L563.9,136.09 L565.0,132.96 L566.1,128.85 L567.2,123.63 L568.3,117.27 L569.4,109.83 L570.4,101.49 L571.5,92.58 L572.6,83.56 L573.7,74.98 L574.8,67.45 L575.8,61.55 L576.9,57.76 L578.0,56.42 L579.1,57.63 L580.2,61.29 L581.2,67.08 L582.3,74.52 L583.4,83.03 L584.5,92.01 L585.6,100.90 L586.6,109.23 L587.7,116.69 L588.8,123.08 L589.9,128.33 L591.0,132.50 L592.1,135.68 L593.1,138.02 L594.2,139.71 L595.3,140.87 L596.4,141.67 L597.5,142.19 L598.5,142.54 L599.6,142.77 L600.7,142.93 L601.8,143.04 L602.9,143.12 L603.9,143.18 L605.0,143.24 L606.1,143.28 L607.2,143.32 L608.3,143.36 L609.3,143.39 L610.4,143.41 L611.5,143.43 L612.6,143.45 L613.7,143.46 L614.8,143.47 L615.8,143.47 L616.9,143.47 L618.0,143.47 L619.1,143.46 L620.2,143.45 L621.2,143.44 L622.3,143.43 L623.4,143.41 L624.5,143.39 L625.6,143.36 L626.6,143.34 L627.7,143.31 L628.8,143.29 L629.9,143.26 L631.0,143.23 L632.0,143.21 L633.1,143.18 L634.2,143.15 L635.3,143.12 L636.4,143.10 M648.3,142.89 L649.3,142.88 L650.4,142.87 L651.5,142.86 L652.6,142.85 L653.7,142.84 L654.8,142.84 L655.8,142.84 L656.9,142.83 L658.0,142.83 L659.1,142.83 L660.2,142.83 L661.2,142.83 L662.3,142.83 L663.4,142.83 L664.5,142.83 L665.6,142.83 L666.6,142.83 L667.7,142.84 L668.8,142.84 L669.9,142.84 L671.0,142.84 L672.0,142.85 L673.1,142.85 L674.2,142.85 L675.3,142.86 L676.4,142.86 L677.5,142.86 L678.5,142.87 L679.6,142.87 L680.7,142.87 L681.8,142.88 L682.9,142.88 L683.9,142.88" fill="none" stroke="#94b6ff" stroke-width="1.1" stroke-linejoin="round"/>
<path d="M281.8,143.12 L282.9,143.12 L284.0,143.13 L285.0,143.13 L286.1,143.13 L287.2,143.14 L288.3,143.14 L289.4,143.14 L290.5,143.15 L291.5,143.15 L292.6,143.16 L293.7,143.16 L294.8,143.17 L295.9,143.17 L296.9,143.17 L298.0,143.18 L299.1,143.18 L300.2,143.19 L301.3,143.19 L302.3,143.20 L303.4,143.20 L304.5,143.21 L305.6,143.22 L306.7,143.22 L307.7,143.23 L308.8,143.23 L309.9,143.24 L311.0,143.25 L312.1,143.25 L313.2,143.26 L314.2,143.27 L315.3,143.27 L316.4,143.28 L317.5,143.29 L318.6,143.30 L319.6,143.30 L320.7,143.31 L321.8,143.32 L322.9,143.33 L324.0,143.34 L325.0,143.35 L326.1,143.36 L327.2,143.37 L328.3,143.38 L329.4,143.39 L330.5,143.40 L331.5,143.41 L332.6,143.42 L333.7,143.43 L334.8,143.44 L335.9,143.45 L336.9,143.47 L338.0,143.48 L339.1,143.49 L340.2,143.51 L341.3,143.52 L342.3,143.53 L343.4,143.55 L344.5,143.56 L345.6,143.58 L346.7,143.59 L347.7,143.61 L348.8,143.63 L349.9,143.64 L351.0,143.66 L352.1,143.68 L353.2,143.70 L354.2,143.72 L355.3,143.73 L356.4,143.75 L357.5,143.77 L358.6,143.80 L359.6,143.82 L360.7,143.84 L361.8,143.86 L362.9,143.89 L364.0,143.91 L365.0,143.93 L366.1,143.96 L367.2,143.99 L368.3,144.01 L369.4,144.04 L370.4,144.07 L371.5,144.10 L372.6,144.13 L373.7,144.16 L374.8,144.19 L375.9,144.22 L376.9,144.25 L378.0,144.29 L379.1,144.32 L380.2,144.36 L381.3,144.39 L382.3,144.43 L383.4,144.47 L384.5,144.51 L385.6,144.55 L386.7,144.59 L387.7,144.63 L388.8,144.68 L389.9,144.72 L391.0,144.77 L392.1,144.82 L393.1,144.87 L394.2,144.92 L395.3,144.97 L396.4,145.02 L397.5,145.08 L398.6,145.13 L399.6,145.19 L400.7,145.25 L401.8,145.31 L402.9,145.37 L404.0,145.44 L405.0,145.50 L406.1,145.57 L407.2,145.64 L408.3,145.71 L409.4,145.78 L410.4,145.86 L411.5,145.94 L412.6,146.02 L413.7,146.10 L414.8,146.20 L415.8,146.31 L416.9,146.44 L418.0,146.61 L419.1,146.84 L420.2,147.16 L421.3,147.59 L422.3,148.20 L423.4,149.04 L424.5,150.17 L425.6,151.65 L426.7,153.53 L427.7,155.84 L428.8,158.58 L429.9,161.70 L431.0,165.10 L432.1,168.64 L433.1,172.12 L434.2,175.32 L435.3,178.00 L436.4,179.94 L437.5,180.98 L438.6,181.01 L439.6,180.03 L440.7,178.10 L441.8,175.37 L442.9,172.03 L444.0,168.33 L445.0,164.50 L446.1,160.75 L447.2,157.26 L448.3,154.14 L449.4,151.48 L450.4,149.28 L451.5,147.54 L452.6,146.20 L453.7,145.20 L454.8,144.48 L455.8,143.97 L456.9,143.63 L458.0,143.40 L459.1,143.25 L460.2,143.15 L461.3,143.10 M555.3,142.91 L556.4,142.82 L557.5,142.67 L558.5,142.40 L559.6,141.96 L560.7,141.25 L561.8,140.17 L562.9,138.57 L563.9,136.27 L565.0,133.10 L566.1,128.89 L567.2,123.49 L568.3,116.87 L569.4,109.06 L570.4,100.27 L571.5,90.85 L572.6,81.29 L573.7,72.20 L574.8,64.26 L575.8,58.10 L576.9,54.25 L578.0,53.05 L579.1,54.62 L580.2,58.82 L581.2,65.26 L582.3,73.41 L583.4,82.61 L584.5,92.21 L585.6,101.60 L586.6,110.30 L587.7,117.99 L588.8,124.49 L589.9,129.76 L591.0,133.87 L592.1,136.96 L593.1,139.20 L594.2,140.78 L595.3,141.85 L596.4,142.56 L597.5,143.03 L598.5,143.33 L599.6,143.52 L600.7,143.65 L601.8,143.74 L602.9,143.80 L603.9,143.85 L605.0,143.89 L606.1,143.92 L607.2,143.95 L608.3,143.97 L609.3,143.99 L610.4,144.01 L611.5,144.02 L612.6,144.02 L613.7,144.02 L614.8,144.02 L615.8,144.01 L616.9,144.00 L618.0,143.98 L619.1,143.96 L620.2,143.94 L621.2,143.91 L622.3,143.89 L623.4,143.85 L624.5,143.82 L625.6,143.78 L626.6,143.75 L627.7,143.71 L628.8,143.67 L629.9,143.63 L631.0,143.59 L632.0,143.55 L633.1,143.51 L634.2,143.47 L635.3,143.43 L636.4,143.40 L637.5,143.36 L638.5,143.33 L639.6,143.29 L640.7,143.26 L641.8,143.23 L642.9,143.20 L643.9,143.17 L645.0,143.15 L646.1,143.13 L647.2,143.11" fill="none" stroke="#7597f6" stroke-width="1.1" stroke-linejoin="round"/>
<path d="M292.6,143.12 L293.7,143.12 L294.8,143.13 L295.9,143.13 L296.9,143.13 L298.0,143.14 L299.1,143.14 L300.2,143.14 L301.3,143.15 L302.3,143.15 L303.4,143.16 L304.5,143.16 L305.6,143.16 L306.7,143.17 L307.7,143.17 L308.8,143.18 L309.9,143.18 L311.0,143.19 L312.1,143.19 L313.2,143.20 L314.2,143.20 L315.3,143.21 L316.4,143.21 L317.5,143.22 L318.6,143.23 L319.6,143.23 L320.7,143.24 L321.8,143.25 L322.9,143.25 L324.0,143.26 L325.0,143.27 L326.1,143.27 L327.2,143.28 L328.3,143.29 L329.4,143.30 L330.5,143.30 L331.5,143.31 L332.6,143.32 L333.7,143.33 L334.8,143.34 L335.9,143.35 L336.9,143.36 L338.0,143.37 L339.1,143.38 L340.2,143.39 L341.3,143.40 L342.3,143.41 L343.4,143.42 L344.5,143.43 L345.6,143.44 L346.7,143.45 L347.7,143.47 L348.8,143.48 L349.9,143.49 L351.0,143.50 L352.1,143.52 L353.2,143.53 L354.2,143.55 L355.3,143.56 L356.4,143.58 L357.5,143.59 L358.6,143.61 L359.6,143.62 L360.7,143.64 L361.8,143.66 L362.9,143.68 L364.0,143.69 L365.0,143.71 L366.1,143.73 L367.2,143.75 L368.3,143.77 L369.4,143.79 L370.4,143.81 L371.5,143.84 L372.6,143.86 L373.7,143.88 L374.8,143.91 L375.9,143.93 L376.9,143.96 L378.0,143.98 L379.1,144.01 L380.2,144.04 L381.3,144.06 L382.3,144.09 L383.4,144.12 L384.5,144.15 L385.6,144.18 L386.7,144.22 L387.7,144.25 L388.8,144.28 L389.9,144.32 L391.0,144.35 L392.1,144.39 L393.1,144.43 L394.2,144.46 L395.3,144.50 L396.4,144.54 L397.5,144.59 L398.6,144.63 L399.6,144.67 L400.7,144.72 L401.8,144.77 L402.9,144.81 L404.0,144.86 L405.0,144.91 L406.1,144.96 L407.2,145.02 L408.3,145.07 L409.4,145.13 L410.4,145.18 L411.5,145.24 L412.6,145.31 L413.7,145.38 L414.8,145.45 L415.8,145.54 L416.9,145.66 L418.0,145.82 L419.1,146.03 L420.2,146.34 L421.3,146.77 L422.3,147.39 L423.4,148.25 L424.5,149.42 L425.6,150.96 L426.7,152.94 L427.7,155.39 L428.8,158.32 L429.9,161.67 L431.0,165.37 L432.1,169.24 L433.1,173.08 L434.2,176.66 L435.3,179.71 L436.4,182.00 L437.5,183.33 L438.6,183.58 L439.6,182.73 L440.7,180.82 L441.8,178.02 L442.9,174.54 L444.0,170.61 L445.0,166.51 L446.1,162.47 L447.2,158.68 L448.3,155.28 L449.4,152.36 L450.4,149.94 L451.5,148.01 L452.6,146.52 L453.7,145.41 L454.8,144.61 L455.8,144.05 L456.9,143.67 L458.0,143.42 L459.1,143.26 L460.2,143.16 L461.3,143.10 M555.3,142.93 L556.4,142.85 L557.5,142.70 L558.5,142.45 L559.6,142.03 L560.7,141.35 L561.8,140.30 L562.9,138.72 L563.9,136.44 L565.0,133.27 L566.1,129.02 L567.2,123.54 L568.3,116.78 L569.4,108.77 L570.4,99.72 L571.5,89.98 L572.6,80.08 L573.7,70.67 L574.8,62.44 L575.8,56.07 L576.9,52.14 L578.0,50.99 L579.1,52.74 L580.2,57.23 L581.2,64.05 L582.3,72.61 L583.4,82.23 L584.5,92.20 L585.6,101.89 L586.6,110.83 L587.7,118.66 L588.8,125.23 L589.9,130.52 L591.0,134.61 L592.1,137.65 L593.1,139.84 L594.2,141.36 L595.3,142.39 L596.4,143.06 L597.5,143.49 L598.5,143.77 L599.6,143.95 L600.7,144.07 L601.8,144.14 L602.9,144.20 L603.9,144.25 L605.0,144.28 L606.1,144.31 L607.2,144.33 L608.3,144.35 L609.3,144.36 L610.4,144.37 L611.5,144.38 L612.6,144.37 L613.7,144.37 L614.8,144.36 L615.8,144.34 L616.9,144.32 L618.0,144.30 L619.1,144.27 L620.2,144.24 L621.2,144.21 L622.3,144.17 L623.4,144.13 L624.5,144.09 L625.6,144.05 L626.6,144.00 L627.7,143.95 L628.8,143.91 L629.9,143.86 L631.0,143.81 L632.0,143.76 L633.1,143.71 L634.2,143.67 L635.3,143.62 L636.4,143.57 L637.5,143.53 L638.5,143.49 L639.6,143.45 L640.7,143.41 L641.8,143.37 L642.9,143.34 L643.9,143.31 L645.0,143.27 L646.1,143.25 L647.2,143.22 L648.3,143.20 L649.3,143.17 L650.4,143.15 L651.5,143.13 L652.6,143.12" fill="none" stroke="#5673e0" stroke-width="1.1" stroke-linejoin="round"/>
<path d="M114.3,143.00 L235.3,143.02 L262.3,143.04 L278.6,143.06 L290.5,143.08 L300.2,143.11 L307.7,143.13 L314.2,143.15 L319.6,143.17 L325.0,143.20 L329.4,143.22 L333.7,143.24 L336.9,143.26 L340.2,143.28 L343.4,143.31 L346.7,143.33 L349.9,143.36 L353.2,143.39 L355.3,143.41 L357.5,143.44 L359.6,143.46 L361.8,143.49 L364.0,143.51 L366.1,143.54 L368.3,143.57 L370.4,143.60 L372.6,143.63 L374.8,143.67 L376.9,143.70 L379.1,143.74 L380.2,143.76 L381.3,143.78 L382.3,143.81 L383.4,143.83 L384.5,143.85 L385.6,143.87 L386.7,143.90 L387.7,143.92 L388.8,143.95 L389.9,143.97 L391.0,144.00 L392.1,144.02 L393.1,144.05 L394.2,144.08 L395.3,144.11 L396.4,144.14 L397.5,144.17 L398.6,144.20 L399.6,144.23 L400.7,144.27 L401.8,144.30 L402.9,144.34 L404.0,144.37 L405.0,144.41 L406.1,144.45 L407.2,144.49 L408.3,144.53 L409.4,144.57 L410.4,144.61 L411.5,144.66 L412.6,144.70 L413.7,144.76 L414.8,144.82 L415.8,144.90 L416.9,145.00 L418.0,145.14 L419.1,145.34 L420.2,145.64 L421.3,146.07 L422.3,146.69 L423.4,147.56 L424.5,148.77 L425.6,150.37 L426.7,152.43 L427.7,155.01 L428.8,158.11 L429.9,161.68 L431.0,165.64 L432.1,169.83 L433.1,174.02 L434.2,177.97 L435.3,181.39 L436.4,184.03 L437.5,185.66 L438.6,186.15 L439.6,185.44 L440.7,183.59 L441.8,180.74 L442.9,177.12 L444.0,172.98 L445.0,168.62 L446.1,164.28 L447.2,160.18 L448.3,156.49 L449.4,153.30 L450.4,150.65 L451.5,148.53 L452.6,146.89 L453.7,145.66 L454.8,144.78 L455.8,144.16 L456.9,143.73 L458.0,143.46 L459.1,143.28 L460.2,143.17 L461.3,143.10 L462.3,143.06 L463.4,143.03 L465.6,143.01 L553.1,142.99 L554.2,142.97 L555.3,142.93 L556.4,142.85 L557.5,142.71 L558.5,142.47 L559.6,142.05 L560.7,141.38 L561.8,140.33 L562.9,138.76 L563.9,136.47 L565.0,133.29 L566.1,129.01 L567.2,123.48 L568.3,116.64 L569.4,108.52 L570.4,99.33 L571.5,89.43 L572.6,79.35 L573.7,69.75 L574.8,61.37 L575.8,54.88 L576.9,50.88 L578.0,49.72 L579.1,51.53 L580.2,56.14 L581.2,63.12 L582.3,71.87 L583.4,81.68 L584.5,91.84 L585.6,101.70 L586.6,110.77 L587.7,118.71 L588.8,125.36 L589.9,130.69 L591.0,134.80 L592.1,137.86 L593.1,140.05 L594.2,141.56 L595.3,142.59 L596.4,143.26 L597.5,143.69 L598.5,143.96 L599.6,144.14 L600.7,144.26 L601.8,144.34 L602.9,144.39 L603.9,144.44 L605.0,144.48 L606.1,144.50 L607.2,144.53 L609.3,144.56 L615.8,144.53 L616.9,144.51 L618.0,144.48 L619.1,144.45 L620.2,144.41 L621.2,144.37 L622.3,144.33 L623.4,144.29 L624.5,144.24 L625.6,144.19 L626.6,144.14 L627.7,144.09 L628.8,144.03 L629.9,143.98 L631.0,143.92 L632.0,143.87 L633.1,143.82 L634.2,143.76 L635.3,143.71 L636.4,143.66 L637.5,143.61 L638.5,143.57 L639.6,143.52 L640.7,143.48 L641.8,143.44 L642.9,143.40 L643.9,143.36 L645.0,143.33 L646.1,143.29 L647.2,143.27 L648.3,143.24 L649.3,143.21 L650.4,143.19 L651.5,143.17 L653.7,143.13 L655.8,143.10 L658.0,143.08 L661.2,143.05 L665.6,143.03 L674.2,143.01 L752.0,143.00" fill="none" stroke="#3b4cc0" stroke-width="1.1" stroke-linejoin="round"/>
<path d="M114.20,143.00 L114.91,143.00 L115.62,143.00 L116.33,143.00 L117.04,143.00 L117.75,143.00 L118.46,143.00 L119.17,143.00 L119.88,143.00 L120.59,143.00 L121.30,143.00 L122.01,143.00 L122.72,143.00 L123.43,143.00 L124.14,143.00 L124.85,143.00 L125.55,143.00 L126.26,143.00 L126.97,143.00 L127.68,143.00 L128.39,143.00 L129.10,143.00 L129.81,143.00 L130.52,143.00 L131.23,143.00 L131.94,143.00 L132.65,143.00 L133.36,143.00 L134.07,143.00 L134.78,143.00 L135.49,143.00 L136.20,143.00 L136.91,143.00 L137.62,143.00 L138.33,143.00 L139.04,143.00 L139.75,143.00 L140.46,143.00 L141.17,143.00 L141.88,143.00 L142.59,143.00 L143.30,143.00 L144.01,143.00 L144.72,143.00 L145.43,143.00 L146.14,143.00 L146.85,143.00 L147.55,143.00 L148.26,143.00 L148.97,142.99 L149.68,142.97 L150.39,142.94 L151.10,142.91 L151.81,142.87 L152.52,142.83 L153.23,142.79 L153.94,142.73 L154.65,142.67 L155.36,142.60 L156.07,142.52 L156.78,142.43 L157.49,142.33 L158.20,142.22 L158.91,142.08 L159.62,141.93 L160.33,141.76 L161.04,141.56 L161.75,141.31 L162.46,141.01 L163.17,140.67 L163.88,140.28 L164.59,139.81 L165.30,139.23 L166.01,138.57 L166.72,137.83 L167.43,137.01 L168.14,136.02 L168.85,134.91 L169.55,133.76 L170.26,132.61 L170.97,131.54 L171.68,130.52 L172.39,129.50 L173.10,128.49 L173.81,127.49 L174.52,126.52 L175.23,125.58 L175.94,124.68 L176.65,123.84 L177.36,123.02 L178.07,122.21 L178.78,121.41 L179.49,120.63 L180.20,119.86 L180.91,119.13 L181.62,118.42 L182.33,117.75 L183.04,117.12 L183.75,116.53 L184.46,116.00 L185.17,115.53 L185.88,115.09 L186.59,114.67 L187.30,114.26 L188.01,113.88 L188.72,113.52 L189.43,113.18 L190.14,112.86 L190.85,112.56 L191.55,112.27 L192.26,112.01 L192.97,111.76 L193.68,111.53 L194.39,111.31 L195.10,111.09 L195.81,110.88 L196.52,110.68 L197.23,110.49 L197.94,110.31 L198.65,110.15 L199.36,110.00 L200.07,109.86 L200.78,109.74 L201.49,109.64 L202.20,109.56 L202.91,109.48 L203.62,109.41 L204.33,109.34 L205.04,109.27 L205.75,109.21 L206.46,109.17 L207.17,109.13 L207.88,109.11 L208.59,109.10 L209.30,109.12 L210.01,109.16 L210.72,109.22 L211.43,109.31 L212.14,109.40 L212.85,109.50 L213.55,109.61 L214.26,109.74 L214.97,109.91 L215.68,110.11 L216.39,110.33 L217.10,110.56 L217.81,110.81 L218.52,111.09 L219.23,111.41 L219.94,111.75 L220.65,112.10 L221.36,112.45 L222.07,112.79 L222.78,113.10 L223.49,113.35 L224.20,113.58 L224.91,113.88 L225.62,114.34 L226.33,115.49 L227.04,117.28 L227.75,119.89 L228.46,122.43 L229.17,124.90 L229.88,127.20 L230.59,129.46 L231.30,131.33 L232.01,132.53 L232.72,133.38 L233.43,133.79 L234.14,133.99 L234.85,133.90 L235.55,133.53 L236.26,133.06 L236.97,132.41 L237.68,131.58 L238.39,130.62 L239.10,129.42 L239.81,128.05 L240.52,126.55 L241.23,125.00 L241.94,123.47 L242.65,122.03 L243.36,120.73 L244.07,119.57 L244.78,118.41 L245.49,117.28 L246.20,116.17 L246.91,115.10 L247.62,114.06 L248.33,113.05 L249.04,112.10 L249.75,111.19 L250.46,110.34 L251.17,109.55 L251.88,108.82 L252.59,108.12 L253.30,107.45 L254.01,106.79 L254.72,106.16 L255.43,105.55 L256.14,104.96 L256.85,104.40 L257.55,103.86 L258.26,103.34 L258.97,102.85 L259.68,102.38 L260.39,101.93 L261.10,101.51 L261.81,101.12 L262.52,100.74 L263.23,100.38 L263.94,100.03 L264.65,99.68 L265.36,99.34 L266.07,99.02 L266.78,98.70 L267.49,98.40 L268.20,98.10 L268.91,97.82 L269.62,97.55 L270.33,97.30 L271.04,97.05 L271.75,96.83 L272.46,96.61 L273.17,96.41 L273.88,96.23 L274.59,96.06 L275.30,95.91 L276.01,95.76 L276.72,95.61 L277.43,95.47 L278.14,95.34 L278.85,95.21 L279.55,95.09 L280.26,94.98 L280.97,94.88 L281.68,94.79 L282.39,94.72 L283.10,94.66 L283.81,94.61 L284.52,94.58 L285.23,94.54 L285.94,94.51 L286.65,94.49 L287.36,94.46 L288.07,94.44 L288.78,94.42 L289.49,94.41 L290.20,94.40 L290.91,94.40 L291.62,94.41 L292.33,94.44 L293.04,94.50 L293.75,94.56 L294.46,94.64 L295.17,94.73 L295.88,94.83 L296.59,94.93 L297.30,95.03 L298.01,95.14 L298.72,95.28 L299.43,95.43 L300.14,95.60 L300.85,95.78 L301.55,95.98 L302.26,96.19 L302.97,96.41 L303.68,96.66 L304.39,96.93 L305.10,97.21 L305.81,97.51 L306.52,97.84 L307.23,98.18 L307.94,98.54 L308.65,98.92 L309.36,99.32 L310.07,99.76 L310.78,100.28 L311.49,100.85 L312.20,101.46 L312.91,102.11 L313.62,102.78 L314.33,103.46 L315.04,104.13 L315.75,104.80 L316.46,105.44 L317.17,106.06 L317.88,106.68 L318.59,107.31 L319.30,107.91 L320.01,108.48 L320.72,109.05 L321.43,109.66 L322.14,110.17 L322.85,110.40 L323.55,110.29 L324.26,109.98 L324.97,109.61 L325.68,109.20 L326.39,108.67 L327.10,108.09 L327.81,107.49 L328.52,106.86 L329.23,106.19 L329.94,105.47 L330.65,104.72 L331.36,103.96 L332.07,103.19 L332.78,102.42 L333.49,101.67 L334.20,100.94 L334.91,100.25 L335.62,99.62 L336.33,99.03 L337.04,98.47 L337.75,97.92 L338.46,97.38 L339.17,96.85 L339.88,96.33 L340.59,95.83 L341.30,95.35 L342.01,94.88 L342.72,94.43 L343.43,94.00 L344.14,93.59 L344.85,93.20 L345.55,92.82 L346.26,92.47 L346.97,92.13 L347.68,91.79 L348.39,91.46 L349.10,91.14 L349.81,90.83 L350.52,90.53 L351.23,90.24 L351.94,89.96 L352.65,89.69 L353.36,89.43 L354.07,89.19 L354.78,88.95 L355.49,88.72 L356.20,88.51 L356.91,88.31 L357.62,88.11 L358.33,87.93 L359.04,87.74 L359.75,87.56 L360.46,87.38 L361.17,87.21 L361.88,87.05 L362.59,86.90 L363.30,86.77 L364.01,86.65 L364.72,86.54 L365.43,86.46 L366.14,86.39 L366.85,86.33 L367.55,86.27 L368.26,86.21 L368.97,86.16 L369.68,86.11 L370.39,86.07 L371.10,86.02 L371.81,85.99 L372.52,85.96 L373.23,85.93 L373.94,85.91 L374.65,85.90 L375.36,85.90 L376.07,85.91 L376.78,85.93 L377.49,85.96 L378.20,86.01 L378.91,86.06 L379.62,86.12 L380.33,86.19 L381.04,86.26 L381.75,86.34 L382.46,86.42 L383.17,86.50 L383.88,86.59 L384.59,86.67 L385.30,86.78 L386.01,86.90 L386.72,87.03 L387.43,87.17 L388.14,87.33 L388.85,87.49 L389.55,87.66 L390.26,87.83 L390.97,88.01 L391.68,88.20 L392.39,88.38 L393.10,88.58 L393.81,88.79 L394.52,89.00 L395.23,89.22 L395.94,89.45 L396.65,89.69 L397.36,89.93 L398.07,90.19 L398.78,90.45 L399.49,90.71 L400.20,90.98 L400.91,91.26 L401.62,91.55 L402.33,91.84 L403.04,92.13 L403.75,92.43 L404.46,92.74 L405.17,93.05 L405.88,93.37 L406.59,93.68 L407.30,94.02 L408.01,94.36 L408.72,94.72 L409.43,95.09 L410.14,95.47 L410.85,95.87 L411.55,96.27 L412.26,96.68 L412.97,97.10 L413.68,97.53 L414.39,97.96 L415.10,98.40 L415.81,98.84 L416.52,99.29 L417.23,99.74 L417.94,100.19 L418.65,100.65 L419.36,101.13 L420.07,101.61 L420.78,102.11 L421.49,102.61 L422.20,103.12 L422.91,103.64 L423.62,104.17 L424.33,104.70 L425.04,105.23 L425.75,105.80 L426.46,106.42 L427.17,107.04 L427.88,107.64 L428.59,108.17 L429.30,108.60 L430.01,108.96 L430.72,109.29 L431.43,109.53 L432.14,109.64 L432.85,109.68 L433.55,109.72 L434.26,109.82 L434.97,110.59 L435.68,112.12 L436.39,114.76 L437.10,118.55 L437.81,122.81 L438.52,126.55 L439.23,129.78 L439.94,132.63 L440.65,134.91 L441.36,136.66 L442.07,138.25 L442.78,139.58 L443.49,140.56 L444.20,141.12 L444.91,141.51 L445.62,141.84 L446.33,142.13 L447.04,142.35 L447.75,142.53 L448.46,142.65 L449.17,142.72 L449.88,142.78 L450.59,142.83 L451.30,142.88 L452.01,142.92 L452.72,142.95 L453.43,142.98 L454.14,142.99 L454.85,143.00 L455.55,143.00 L456.26,143.00 L456.97,143.00 L457.68,143.00 L458.39,143.00 L459.10,143.00 L459.81,143.00 L460.52,143.00 L461.23,143.00 L461.94,143.00 L462.65,143.00 L463.36,143.00 L464.07,143.00 L464.78,143.00 L465.49,143.00 L466.20,143.00 L466.91,143.00 L467.62,143.00 L468.33,143.00 L469.04,143.00 L469.75,143.00 L470.46,143.00 L471.17,143.00 L471.88,143.00 L472.59,143.00 L473.30,143.00 L474.01,143.00 L474.72,143.00 L475.43,143.00 L476.14,143.00 L476.85,143.00 L477.55,143.00 L478.26,143.00 L478.97,143.00 L479.68,143.00 L480.39,143.00 L481.10,143.00 L481.81,143.00 L482.52,143.00 L483.23,143.00 L483.94,143.00 L484.65,143.00 L485.36,143.00 L486.07,143.00 L486.78,143.00 L487.49,143.00 L488.20,143.00 L488.91,143.00 L489.62,143.00 L490.33,143.00 L491.04,143.00 L491.75,143.00 L492.46,143.00 L493.17,143.00 L493.88,143.00 L494.59,143.00 L495.30,143.00 L496.01,143.00 L496.72,143.00 L497.43,143.00 L498.14,143.00 L498.85,143.00 L499.55,143.00 L500.26,143.00 L500.97,143.00 L501.68,143.00 L502.39,143.00 L503.10,143.00 L503.81,143.00 L504.52,143.00 L505.23,143.00 L505.94,143.00 L506.65,143.00 L507.36,143.00 L508.07,143.00 L508.78,143.00 L509.49,143.00 L510.20,143.00 L510.91,143.00 L511.62,143.00 L512.33,143.00 L513.04,143.00 L513.75,143.00 L514.46,143.00 L515.17,143.00 L515.88,143.00 L516.59,143.00 L517.30,143.00 L518.01,143.00 L518.72,143.00 L519.43,143.00 L520.14,143.00 L520.85,143.00 L521.55,143.00 L522.26,143.00 L522.97,143.00 L523.68,143.00 L524.39,143.00 L525.10,143.00 L525.81,143.00 L526.52,143.00 L527.23,143.00 L527.94,143.00 L528.65,143.00 L529.36,143.00 L530.07,143.00 L530.78,143.00 L531.49,143.00 L532.20,143.00 L532.91,143.00 L533.62,143.00 L534.33,143.00 L535.04,143.00 L535.75,143.00 L536.46,143.00 L537.17,143.00 L537.88,143.00 L538.59,143.00 L539.30,143.00 L540.01,143.00 L540.72,143.00 L541.43,143.00 L542.14,143.00 L542.85,143.00 L543.55,143.00 L544.26,143.00 L544.97,143.00 L545.68,143.00 L546.39,143.00 L547.10,143.00 L547.81,143.00 L548.52,143.00 L549.23,143.00 L549.94,143.00 L550.65,143.00 L551.36,143.00 L552.07,143.00 L552.78,143.00 L553.49,143.00 L554.20,143.00 L554.91,143.00 L555.62,143.00 L556.33,143.00 L557.04,143.00 L557.75,143.00 L558.46,143.00 L559.17,143.00 L559.88,143.00 L560.59,143.00 L561.30,142.98 L562.01,142.96 L562.72,142.93 L563.43,142.89 L564.14,142.84 L564.85,142.78 L565.55,142.72 L566.26,142.65 L566.97,142.58 L567.68,142.47 L568.39,142.32 L569.10,142.12 L569.81,141.87 L570.52,141.57 L571.23,141.23 L571.94,140.83 L572.65,140.23 L573.36,139.26 L574.07,138.02 L574.78,136.60 L575.49,135.08 L576.20,133.56 L576.91,131.75 L577.62,129.68 L578.33,127.57 L579.04,125.60 L579.75,123.94 L580.46,122.20 L581.17,120.51 L581.88,119.16 L582.59,118.44 L583.30,118.54 L584.01,119.10 L584.72,119.87 L585.43,120.63 L586.14,121.64 L586.85,122.68 L587.55,123.20 L588.26,123.13 L588.97,122.94 L589.68,122.70 L590.39,122.46 L591.10,122.14 L591.81,121.79 L592.52,121.47 L593.23,121.21 L593.94,120.98 L594.65,120.77 L595.36,120.57 L596.07,120.38 L596.78,120.19 L597.49,120.00 L598.20,119.81 L598.91,119.61 L599.62,119.41 L600.33,119.19 L601.04,118.97 L601.75,118.74 L602.46,118.52 L603.17,118.29 L603.88,118.06 L604.59,117.82 L605.30,117.59 L606.01,117.36 L606.72,117.13 L607.43,116.91 L608.14,116.69 L608.85,116.47 L609.55,116.26 L610.26,116.06 L610.97,115.86 L611.68,115.68 L612.39,115.50 L613.10,115.33 L613.81,115.16 L614.52,114.99 L615.23,114.81 L615.94,114.65 L616.65,114.48 L617.36,114.32 L618.07,114.16 L618.78,114.00 L619.49,113.85 L620.20,113.71 L620.91,113.57 L621.62,113.44 L622.33,113.32 L623.04,113.20 L623.75,113.10 L624.46,113.01 L625.17,112.92 L625.88,112.85 L626.59,112.78 L627.30,112.71 L628.01,112.64 L628.72,112.56 L629.43,112.50 L630.14,112.43 L630.85,112.36 L631.55,112.30 L632.26,112.23 L632.97,112.17 L633.68,112.11 L634.39,112.06 L635.10,112.00 L635.81,111.95 L636.52,111.90 L637.23,111.86 L637.94,111.82 L638.65,111.78 L639.36,111.74 L640.07,111.71 L640.78,111.68 L641.49,111.66 L642.20,111.64 L642.91,111.62 L643.62,111.61 L644.33,111.60 L645.04,111.60 L645.75,111.60 L646.46,111.61 L647.17,111.62 L647.88,111.63 L648.59,111.64 L649.30,111.66 L650.01,111.68 L650.72,111.71 L651.43,111.73 L652.14,111.76 L652.85,111.80 L653.55,111.83 L654.26,111.87 L654.97,111.91 L655.68,111.95 L656.39,111.99 L657.10,112.03 L657.81,112.08 L658.52,112.13 L659.23,112.18 L659.94,112.23 L660.65,112.28 L661.36,112.34 L662.07,112.39 L662.78,112.45 L663.49,112.50 L664.20,112.56 L664.91,112.62 L665.62,112.69 L666.33,112.76 L667.04,112.85 L667.75,112.95 L668.46,113.06 L669.17,113.17 L669.88,113.30 L670.59,113.42 L671.30,113.56 L672.01,113.70 L672.72,113.84 L673.43,113.99 L674.14,114.13 L674.85,114.28 L675.55,114.43 L676.26,114.58 L676.97,114.73 L677.68,114.88 L678.39,115.02 L679.10,115.17 L679.81,115.32 L680.52,115.47 L681.23,115.62 L681.94,115.78 L682.65,115.94 L683.36,116.10 L684.07,116.27 L684.78,116.44 L685.49,116.61 L686.20,116.79 L686.91,116.98 L687.62,117.16 L688.33,117.36 L689.04,117.55 L689.75,117.76 L690.46,117.97 L691.17,118.18 L691.88,118.41 L692.59,118.65 L693.30,118.89 L694.01,119.15 L694.72,119.42 L695.43,119.69 L696.14,119.97 L696.85,120.26 L697.55,120.56 L698.26,120.86 L698.97,121.16 L699.68,121.47 L700.39,121.78 L701.10,122.10 L701.81,122.42 L702.52,122.74 L703.23,123.05 L703.94,123.37 L704.65,123.70 L705.36,124.02 L706.07,124.36 L706.78,124.70 L707.49,125.05 L708.20,125.41 L708.91,125.77 L709.62,126.14 L710.33,126.51 L711.04,126.89 L711.75,127.28 L712.46,127.68 L713.17,128.09 L713.88,128.52 L714.59,128.97 L715.30,129.44 L716.01,129.93 L716.72,130.47 L717.43,131.08 L718.14,131.77 L718.85,132.53 L719.55,133.33 L720.26,134.19 L720.97,135.07 L721.68,135.97 L722.39,136.91 L723.10,137.82 L723.81,138.64 L724.52,139.40 L725.23,140.08 L725.94,140.67 L726.65,141.21 L727.36,141.63 L728.07,141.95 L728.78,142.22 L729.49,142.44 L730.20,142.60 L730.91,142.72 L731.62,142.83 L732.33,142.91 L733.04,142.95 L733.75,142.97 L734.46,142.99 L735.17,143.00 L735.88,143.00 L736.59,143.00 L737.30,143.00 L738.01,143.00 L738.72,143.00 L739.43,143.00 L740.14,143.00 L740.85,143.00 L741.55,143.00 L742.26,143.00 L742.97,143.00 L743.68,143.00 L744.39,143.00 L745.10,143.00 L745.81,143.00 L746.52,143.00 L747.23,143.00 L747.94,143.00 L748.65,143.00 L749.36,143.00 L750.07,143.00 L750.78,143.00 L751.49,143.00 L752.20,143.00" fill="none" stroke="#dc143c" stroke-width="2.4" stroke-linejoin="round"/>
<rect x="114.2" y="12.2" width="638.0" height="235.9" fill="none" stroke="#000" stroke-width="2.1"/>
<line x1="492.60" y1="12.2" x2="492.60" y2="248.1" stroke="#000" stroke-width="2.1"/>
<text transform="translate(166.60,277.50) scale(1.0,1.03)" font-size="29.1" text-anchor="middle" stroke="#000" stroke-width="0.3">–6</text>

<text transform="translate(274.70,277.50) scale(1.0,1.03)" font-size="29.1" text-anchor="middle" stroke="#000" stroke-width="0.3">–4</text>

<text transform="translate(382.80,277.50) scale(1.0,1.03)" font-size="29.1" text-anchor="middle" stroke="#000" stroke-width="0.3">–2</text>

<text transform="translate(490.90,277.50) scale(1.0,1.03)" font-size="29.1" text-anchor="middle" stroke="#000" stroke-width="0.3">0</text>

<text transform="translate(599.00,277.50) scale(1.0,1.03)" font-size="29.1" text-anchor="middle" stroke="#000" stroke-width="0.3">2</text>

<text transform="translate(707.10,277.50) scale(1.0,1.03)" font-size="29.1" text-anchor="middle" stroke="#000" stroke-width="0.3">4</text>

<text transform="translate(104.70,255.20) scale(1.0,1.03)" font-size="29.1" text-anchor="end" stroke="#000" stroke-width="0.3">–0.4</text>

<text transform="translate(104.70,202.90) scale(1.0,1.03)" font-size="29.1" text-anchor="end" stroke="#000" stroke-width="0.3">–0.2</text>

<text transform="translate(104.70,150.60) scale(1.0,1.03)" font-size="29.1" text-anchor="end" stroke="#000" stroke-width="0.3">0</text>

<text transform="translate(104.70,98.30) scale(1.0,1.03)" font-size="29.1" text-anchor="end" stroke="#000" stroke-width="0.3">0.2</text>

<text transform="translate(104.70,46.00) scale(1.0,1.03)" font-size="29.1" text-anchor="end" stroke="#000" stroke-width="0.3">0.4</text>

<text transform="translate(-1.60,23.00) scale(1.04,1.03)" font-size="40.5" font-weight="bold">a</text>
<text transform="translate(220.50,47.40) scale(1.0,1.05)" font-size="29.5" font-style="italic" stroke="#000" stroke-width="0.3">G</text>
<text transform="translate(245.80,36.20) scale(1.0,0.9)" font-size="20" stroke="#000" stroke-width="0.3">&gt;</text>
<text transform="translate(682.20,47.40) scale(1.0,1.05)" font-size="29.5" font-style="italic" stroke="#000" stroke-width="0.3">G</text>
<text transform="translate(708.30,36.20) scale(1.0,0.9)" font-size="20" stroke="#000" stroke-width="0.3">&lt;</text>
<text transform="translate(186.40,196.60) scale(1.0,1.03)" font-size="25" stroke="#000" stroke-width="0.3">Spec (<tspan font-style="italic">t</tspan> = 50)</text>
<line x1="342.1" y1="189.8" x2="420.6" y2="189.8" stroke="#dc143c" stroke-width="2.5"/><text transform="translate(513.50,192.90) scale(1.0,1.03)" font-size="25" stroke="#000" stroke-width="0.3"><tspan font-style="italic">t</tspan><tspan dx="3.6"> = 10</tspan></text>
<text transform="translate(674.80,194.50) scale(1.0,1.03)" font-size="24.5" stroke="#000" stroke-width="0.3"><tspan font-style="italic">t</tspan> = 90</text>
<text transform="translate(24.90,132.60) rotate(-90) scale(1.0,1.03)" font-size="29.5" text-anchor="middle" stroke="#000" stroke-width="0.3">Occupied DoS</text>
<text x="437.0" y="312.0" font-size="30" text-anchor="middle" class="om">ω</text>
<rect x="545.7" y="202.6" width="161.0" height="22.80000000000001" fill="url(#cbar)" stroke="#000" stroke-width="2.0"/>
</g>
<g id="panel-b">
<text transform="translate(-1.60,348.30) scale(1.06,1.01)" font-size="40.5" font-weight="bold">b</text>
<clipPath id="ec1"><rect x="0" y="333.4" width="780" height="300"/></clipPath><ellipse cx="219.60" cy="399.90" rx="47.80" ry="66.30" fill="#d4e4ff" stroke="#000" stroke-width="2.2" clip-path="url(#ec1)"/>
<path d="M0,0 C10.23,-8.10 10.89,-27.00 0,-27.00 C-10.89,-27.00 -10.23,-8.10 0,0 Z" transform="translate(222.09,378.27) rotate(0)" fill="url(#gPB)"/><path d="M0,0 C10.23,-8.10 10.89,-27.00 0,-27.00 C-10.89,-27.00 -10.23,-8.10 0,0 Z" transform="translate(222.09,376.27) rotate(180)" fill="url(#gPB)"/><path d="M0,0 C8.99,-7.50 9.57,-25.00 0,-25.00 C-9.57,-25.00 -8.99,-7.50 0,0 Z" transform="translate(223.59,376.97) rotate(270)" fill="url(#gPL)"/><path d="M0,0 C8.99,-7.65 9.57,-25.50 0,-25.50 C-9.57,-25.50 -8.99,-7.65 0,0 Z" transform="translate(220.59,377.77) rotate(90)" fill="url(#gPR)"/><ellipse cx="233.35" cy="424.34" rx="8.50" ry="10.00" fill="url(#gSalR)" /><ellipse cx="221.35" cy="426.84" rx="15.20" ry="15.20" fill="url(#gSph)" /><ellipse cx="212.05" cy="430.04" rx="11.30" ry="9.80" fill="url(#gRF)" transform="rotate(-15 212.05 430.04)"/><line x1="196.81" y1="388.31" x2="208.38" y2="365.18" stroke="#000" stroke-width="3.4"/><path d="M212.76,356.41 L211.20,371.28 L208.38,365.18 L201.80,366.59 Z" fill="#000"/><line x1="191.41" y1="446.47" x2="202.71" y2="424.06" stroke="#000" stroke-width="3.4"/><path d="M207.12,415.31 L205.50,430.17 L202.71,424.06 L196.13,425.45 Z" fill="#000"/><line x1="218.40" y1="424.39" x2="207.84" y2="446.92" stroke="#000" stroke-width="3.4"/><path d="M203.68,455.80 L204.87,440.89 L207.84,446.92 L214.38,445.35 Z" fill="#000"/>
<ellipse cx="378.50" cy="400.80" rx="47.50" ry="66.00" fill="#d4e4ff" stroke="#000" stroke-width="2.2"/>
<ellipse cx="392.38" cy="377.72" rx="8.00" ry="7.00" fill="url(#gSalR)" /><path d="M0,0 C11.78,-8.10 12.54,-27.00 0,-27.00 C-12.54,-27.00 -11.78,-8.10 0,0 Z" transform="translate(382.58,381.22) rotate(0)" fill="url(#gPB)"/><path d="M0,0 C11.78,-8.10 12.54,-27.00 0,-27.00 C-12.54,-27.00 -11.78,-8.10 0,0 Z" transform="translate(382.58,378.22) rotate(180)" fill="url(#gPB)"/><ellipse cx="375.68" cy="381.72" rx="10.40" ry="7.20" fill="url(#gRF)" /><ellipse cx="364.18" cy="424.41" rx="10.00" ry="10.00" fill="url(#gSalL)" /><ellipse cx="382.58" cy="425.61" rx="8.80" ry="15.70" fill="url(#gBV)" /><ellipse cx="397.98" cy="427.31" rx="13.50" ry="9.80" fill="url(#gRR)" /><line x1="356.32" y1="391.99" x2="367.32" y2="368.94" stroke="#000" stroke-width="3.4"/><path d="M371.53,360.09 L370.25,374.99 L367.32,368.94 L360.77,370.47 Z" fill="#000"/><line x1="349.45" y1="444.02" x2="361.02" y2="420.88" stroke="#000" stroke-width="3.4"/><path d="M365.40,412.12 L363.83,426.99 L361.02,420.88 L354.44,422.29 Z" fill="#000"/><line x1="376.44" y1="421.44" x2="365.26" y2="444.52" stroke="#000" stroke-width="3.4"/><path d="M360.98,453.34 L362.36,438.46 L365.26,444.52 L371.81,443.03 Z" fill="#000"/>
<ellipse cx="538.50" cy="402.50" rx="47.50" ry="66.00" fill="#d4e4ff" stroke="#000" stroke-width="2.2"/>
<path d="M0,0 C10.23,-8.10 10.89,-27.00 0,-27.00 C-10.89,-27.00 -10.23,-8.10 0,0 Z" transform="translate(541.35,381.95) rotate(0)" fill="url(#gPB)"/><path d="M0,0 C10.23,-8.10 10.89,-27.00 0,-27.00 C-10.89,-27.00 -10.23,-8.10 0,0 Z" transform="translate(541.35,379.95) rotate(180)" fill="url(#gPB)"/><path d="M0,0 C8.99,-7.50 9.57,-25.00 0,-25.00 C-9.57,-25.00 -8.99,-7.50 0,0 Z" transform="translate(542.85,380.65) rotate(270)" fill="url(#gPL)"/><path d="M0,0 C8.99,-7.65 9.57,-25.50 0,-25.50 C-9.57,-25.50 -8.99,-7.65 0,0 Z" transform="translate(539.85,381.45) rotate(90)" fill="url(#gPR)"/><ellipse cx="552.12" cy="427.29" rx="8.50" ry="10.00" fill="url(#gSalR)" /><ellipse cx="540.12" cy="429.79" rx="15.20" ry="15.20" fill="url(#gSph)" /><ellipse cx="530.82" cy="432.99" rx="11.30" ry="9.80" fill="url(#gRF)" transform="rotate(-15 530.82 432.99)"/><line x1="516.32" y1="391.26" x2="527.64" y2="368.61" stroke="#000" stroke-width="3.4"/><path d="M532.02,359.85 L530.46,374.72 L527.64,368.61 L521.07,370.02 Z" fill="#000"/><line x1="509.45" y1="448.93" x2="521.02" y2="425.79" stroke="#000" stroke-width="3.4"/><path d="M525.40,417.02 L523.83,431.89 L521.02,425.79 L514.44,427.20 Z" fill="#000"/><line x1="536.44" y1="426.84" x2="525.31" y2="449.46" stroke="#000" stroke-width="3.4"/><path d="M520.98,458.25 L522.45,443.37 L525.31,449.46 L531.87,448.01 Z" fill="#000"/>
<ellipse cx="681.30" cy="402.50" rx="47.80" ry="66.00" fill="#d4e4ff" stroke="#000" stroke-width="2.2"/>
<ellipse cx="694.83" cy="379.69" rx="8.00" ry="7.00" fill="url(#gSalR)" /><path d="M0,0 C11.78,-8.10 12.54,-27.00 0,-27.00 C-12.54,-27.00 -11.78,-8.10 0,0 Z" transform="translate(685.03,383.19) rotate(0)" fill="url(#gPB)"/><path d="M0,0 C11.78,-8.10 12.54,-27.00 0,-27.00 C-12.54,-27.00 -11.78,-8.10 0,0 Z" transform="translate(685.03,380.19) rotate(180)" fill="url(#gPB)"/><ellipse cx="678.13" cy="383.69" rx="10.40" ry="7.20" fill="url(#gRF)" /><ellipse cx="666.63" cy="426.38" rx="10.00" ry="10.00" fill="url(#gSalL)" /><ellipse cx="685.03" cy="427.58" rx="8.80" ry="15.70" fill="url(#gBV)" /><ellipse cx="700.43" cy="429.28" rx="13.50" ry="9.80" fill="url(#gRR)" /><line x1="658.04" y1="394.45" x2="669.25" y2="371.13" stroke="#000" stroke-width="3.4"/><path d="M673.50,362.30 L672.16,377.19 L669.25,371.13 L662.70,372.64 Z" fill="#000"/><line x1="651.90" y1="445.74" x2="663.09" y2="422.65" stroke="#000" stroke-width="3.4"/><path d="M667.36,413.83 L665.98,428.72 L663.09,422.65 L656.53,424.14 Z" fill="#000"/><line x1="678.90" y1="423.16" x2="667.71" y2="446.24" stroke="#000" stroke-width="3.4"/><path d="M663.44,455.06 L664.82,440.17 L667.71,446.24 L674.27,444.75 Z" fill="#000"/>
<ellipse cx="219.90" cy="541.30" rx="47.60" ry="66.30" fill="#d4e4ff" stroke="#000" stroke-width="2.2"/>
<ellipse cx="229.92" cy="515.69" rx="8.00" ry="7.00" fill="url(#gSalR)" /><path d="M0,0 C11.78,-8.10 12.54,-27.00 0,-27.00 C-12.54,-27.00 -11.78,-8.10 0,0 Z" transform="translate(220.12,519.19) rotate(0)" fill="url(#gPB)"/><path d="M0,0 C11.78,-8.10 12.54,-27.00 0,-27.00 C-12.54,-27.00 -11.78,-8.10 0,0 Z" transform="translate(220.12,516.19) rotate(180)" fill="url(#gPB)"/><ellipse cx="213.22" cy="519.69" rx="10.40" ry="7.20" fill="url(#gRF)" /><ellipse cx="201.72" cy="562.38" rx="10.00" ry="10.00" fill="url(#gSalL)" /><ellipse cx="220.12" cy="563.58" rx="8.80" ry="15.70" fill="url(#gBV)" /><ellipse cx="235.52" cy="565.28" rx="13.50" ry="9.80" fill="url(#gRR)" /><line x1="206.63" y1="499.77" x2="195.96" y2="523.24" stroke="#000" stroke-width="3.4"/><path d="M191.90,532.17 L192.92,517.25 L195.96,523.24 L202.47,521.59 Z" fill="#000"/><line x1="186.99" y1="581.25" x2="198.51" y2="558.57" stroke="#000" stroke-width="3.4"/><path d="M202.94,549.83 L201.29,564.69 L198.51,558.57 L191.92,559.94 Z" fill="#000"/><line x1="213.99" y1="559.16" x2="202.99" y2="582.22" stroke="#000" stroke-width="3.4"/><path d="M198.77,591.06 L200.06,576.16 L202.99,582.22 L209.54,580.68 Z" fill="#000"/>
<ellipse cx="381.30" cy="543.00" rx="47.80" ry="66.00" fill="#d4e4ff" stroke="#000" stroke-width="2.2"/>
<path d="M0,0 C10.23,-8.10 10.89,-27.00 0,-27.00 C-10.89,-27.00 -10.23,-8.10 0,0 Z" transform="translate(383.80,521.14) rotate(0)" fill="url(#gPB)"/><path d="M0,0 C10.23,-8.10 10.89,-27.00 0,-27.00 C-10.89,-27.00 -10.23,-8.10 0,0 Z" transform="translate(383.80,519.14) rotate(180)" fill="url(#gPB)"/><path d="M0,0 C8.99,-7.50 9.57,-25.00 0,-25.00 C-9.57,-25.00 -8.99,-7.50 0,0 Z" transform="translate(385.30,519.84) rotate(270)" fill="url(#gPL)"/><path d="M0,0 C8.99,-7.65 9.57,-25.50 0,-25.50 C-9.57,-25.50 -8.99,-7.65 0,0 Z" transform="translate(382.30,520.64) rotate(90)" fill="url(#gPR)"/><ellipse cx="395.31" cy="567.21" rx="8.50" ry="10.00" fill="url(#gSalR)" /><ellipse cx="383.31" cy="569.71" rx="15.20" ry="15.20" fill="url(#gSph)" /><ellipse cx="374.01" cy="572.91" rx="11.30" ry="9.80" fill="url(#gRF)" transform="rotate(-15 374.01 572.91)"/><line x1="372.27" y1="506.89" x2="361.08" y2="529.97" stroke="#000" stroke-width="3.4"/><path d="M356.81,538.79 L358.19,523.90 L361.08,529.97 L367.64,528.48 Z" fill="#000"/><line x1="352.64" y1="589.10" x2="363.61" y2="566.27" stroke="#000" stroke-width="3.4"/><path d="M367.85,557.44 L366.52,572.33 L363.61,566.27 L357.06,567.79 Z" fill="#000"/><line x1="378.90" y1="567.01" x2="368.33" y2="589.55" stroke="#000" stroke-width="3.4"/><path d="M364.17,598.42 L365.36,583.52 L368.33,589.55 L374.87,587.98 Z" fill="#000"/>
<ellipse cx="538.50" cy="544.20" rx="47.50" ry="66.00" fill="#ffcdaa" stroke="#000" stroke-width="2.2"/>
<path d="M0,0 C10.23,-8.10 10.89,-27.00 0,-27.00 C-10.89,-27.00 -10.23,-8.10 0,0 Z" transform="translate(541.35,518.93) rotate(0)" fill="url(#gPB)"/><path d="M0,0 C10.23,-8.10 10.89,-27.00 0,-27.00 C-10.89,-27.00 -10.23,-8.10 0,0 Z" transform="translate(541.35,516.93) rotate(180)" fill="url(#gPB)"/><path d="M0,0 C8.99,-7.50 9.57,-25.00 0,-25.00 C-9.57,-25.00 -8.99,-7.50 0,0 Z" transform="translate(542.85,517.63) rotate(270)" fill="url(#gPL)"/><path d="M0,0 C8.99,-7.65 9.57,-25.50 0,-25.50 C-9.57,-25.50 -8.99,-7.65 0,0 Z" transform="translate(539.85,518.43) rotate(90)" fill="url(#gPR)"/><ellipse cx="552.12" cy="564.51" rx="8.50" ry="10.00" fill="url(#gSalR)" /><ellipse cx="540.12" cy="567.01" rx="15.20" ry="15.20" fill="url(#gSph)" /><ellipse cx="530.82" cy="570.21" rx="11.30" ry="9.80" fill="url(#gRF)" transform="rotate(-15 530.82 570.21)"/><line x1="515.09" y1="531.43" x2="526.47" y2="508.32" stroke="#000" stroke-width="3.4"/><path d="M530.80,499.53 L529.32,514.41 L526.47,508.32 L519.90,509.77 Z" fill="#000"/><line x1="541.35" y1="508.85" x2="530.73" y2="531.86" stroke="#000" stroke-width="3.4"/><path d="M526.63,540.75 L527.73,525.84 L530.73,531.86 L537.26,530.24 Z" fill="#000"/><line x1="509.45" y1="585.42" x2="521.02" y2="562.28" stroke="#000" stroke-width="3.4"/><path d="M525.40,553.52 L523.83,568.39 L521.02,562.28 L514.44,563.69 Z" fill="#000"/><line x1="536.44" y1="563.33" x2="525.31" y2="585.95" stroke="#000" stroke-width="3.4"/><path d="M520.98,594.74 L522.45,579.86 L525.31,585.95 L531.87,584.50 Z" fill="#000"/>
<ellipse cx="684.50" cy="544.20" rx="47.80" ry="66.00" fill="#d4e4ff" stroke="#000" stroke-width="2.2"/>
<path d="M0,0 C10.23,-8.10 10.89,-27.00 0,-27.00 C-10.89,-27.00 -10.23,-8.10 0,0 Z" transform="translate(686.99,522.61) rotate(0)" fill="url(#gPB)"/><path d="M0,0 C10.23,-8.10 10.89,-27.00 0,-27.00 C-10.89,-27.00 -10.23,-8.10 0,0 Z" transform="translate(686.99,520.61) rotate(180)" fill="url(#gPB)"/><path d="M0,0 C8.99,-7.50 9.57,-25.00 0,-25.00 C-9.57,-25.00 -8.99,-7.50 0,0 Z" transform="translate(688.49,521.31) rotate(270)" fill="url(#gPL)"/><path d="M0,0 C8.99,-7.65 9.57,-25.50 0,-25.50 C-9.57,-25.50 -8.99,-7.65 0,0 Z" transform="translate(685.49,522.11) rotate(90)" fill="url(#gPR)"/><ellipse cx="698.26" cy="568.44" rx="8.50" ry="10.00" fill="url(#gSalR)" /><ellipse cx="686.26" cy="570.94" rx="15.20" ry="15.20" fill="url(#gSph)" /><ellipse cx="676.96" cy="574.14" rx="11.30" ry="9.80" fill="url(#gRF)" transform="rotate(-15 676.96 574.14)"/><line x1="674.72" y1="508.12" x2="663.89" y2="531.38" stroke="#000" stroke-width="3.4"/><path d="M659.75,540.26 L660.91,525.36 L663.89,531.38 L670.42,529.79 Z" fill="#000"/><line x1="655.09" y1="590.33" x2="666.47" y2="567.22" stroke="#000" stroke-width="3.4"/><path d="M670.80,558.42 L669.32,573.30 L666.47,567.22 L659.90,568.66 Z" fill="#000"/><line x1="681.84" y1="567.75" x2="670.84" y2="590.80" stroke="#000" stroke-width="3.4"/><path d="M666.63,599.65 L667.91,584.75 L670.84,590.80 L677.39,589.27 Z" fill="#000"/>
<path d="M189.90,503.60 L188.34,501.67 L186.84,499.70 L185.39,497.70 L183.99,495.67 L182.64,493.61 L181.35,491.51 L180.11,489.39 L178.91,487.24 L177.77,485.07 L176.68,482.87 L175.64,480.64 L174.65,478.40 L173.71,476.13 L172.82,473.84 L171.98,471.54 L171.18,469.21 L170.43,466.87 L169.73,464.51 L169.07,462.14 L168.46,459.76 L167.90,457.36 L167.39,454.95 L166.91,452.53 L166.49,450.11 L166.10,447.68 L165.76,445.24 L165.47,442.79 L165.21,440.35 L165.00,437.90 L164.84,435.45 L164.72,432.99 L164.65,430.54 L164.63,428.09 L164.67,425.64 L164.76,423.19 L164.91,420.74 L165.12,418.29 L165.39,415.85 L165.72,413.42 L166.10,410.99 L166.54,408.57 L167.04,406.16 L167.59,403.76 L168.20,401.38 L168.86,399.00 L169.58,396.64 L170.35,394.30 L171.17,391.97 L172.05,389.66 L172.99,387.37 L173.99,385.12 L175.05,382.90 L176.18,380.71 L177.39,378.57 L178.66,376.48 L180.02,374.45 L181.45,372.47 L182.97,370.56 L184.57,368.71" fill="none" stroke="#cc0000" stroke-width="4.4"/><path d="M192.80,361.50 L185.44,376.21 L184.42,369.56 L177.82,368.28 Z" fill="#cc0000"/>
<path d="M244.40,439.20 L246.05,437.57 L247.69,435.93 L249.33,434.29 L250.97,432.64 L252.61,430.99 L254.25,429.34 L255.88,427.69 L257.52,426.04 L259.16,424.40 L260.80,422.75 L262.45,421.11 L264.10,419.47 L265.76,417.84 L267.42,416.21 L269.09,414.59 L270.77,412.98 L272.45,411.38 L274.15,409.79 L275.85,408.21 L277.57,406.65 L279.30,405.10 L281.04,403.56 L282.79,402.03 L284.56,400.53 L286.34,399.04 L288.14,397.56 L289.96,396.11 L291.78,394.67 L293.63,393.26 L295.49,391.86 L297.36,390.48 L299.25,389.13 L301.15,387.79 L303.06,386.47 L304.99,385.18 L306.94,383.91 L308.90,382.65 L310.86,381.42 L312.85,380.20 L314.84,379.00 L316.84,377.82 L318.85,376.66 L320.87,375.51 L322.90,374.37 L324.94,373.26 L326.98,372.15 L329.04,371.07 L331.11,370.00 L333.18,368.95 L335.26,367.92 L337.35,366.91 L339.45,365.91 L341.56,364.94 L343.68,363.98 L345.81,363.05 L347.94,362.13 L350.09,361.24 L352.24,360.36 L354.40,359.51" fill="none" stroke="#cc0000" stroke-width="4.4"/><path d="M364.60,355.80 L352.02,366.39 L353.71,359.88 L348.16,356.09 Z" fill="#cc0000"/>
<path d="M511.00,528.00 L509.98,525.68 L508.98,523.36 L507.99,521.02 L507.03,518.68 L506.08,516.32 L505.16,513.96 L504.25,511.59 L503.37,509.20 L502.51,506.81 L501.68,504.41 L500.87,502.01 L500.08,499.59 L499.33,497.16 L498.60,494.73 L497.90,492.29 L497.23,489.84 L496.60,487.38 L495.99,484.92 L495.42,482.44 L494.88,479.96 L494.38,477.48 L493.91,474.98 L493.48,472.48 L493.08,469.97 L492.73,467.45 L492.41,464.93 L492.13,462.41 L491.90,459.88 L491.69,457.34 L491.53,454.81 L491.41,452.27 L491.32,449.73 L491.28,447.19 L491.27,444.66 L491.31,442.12 L491.38,439.59 L491.49,437.06 L491.64,434.53 L491.83,432.00 L492.05,429.47 L492.30,426.95 L492.59,424.43 L492.92,421.91 L493.27,419.39 L493.65,416.87 L494.06,414.36 L494.51,411.85 L494.98,409.34 L495.49,406.84 L496.04,404.35 L496.64,401.87 L497.29,399.41 L498.00,396.97 L498.78,394.56 L499.63,392.18 L500.56,389.83 L501.57,387.52 L502.67,385.25 L503.87,383.03" fill="none" stroke="#cc0000" stroke-width="4.4"/><path d="M510.20,374.10 L506.39,390.10 L503.88,383.86 L497.16,384.12 Z" fill="#cc0000"/>
<path d="M571.50,506.50 L572.81,505.67 L574.13,504.86 L575.46,504.07 L576.81,503.30 L578.16,502.54 L579.53,501.81 L580.91,501.09 L582.30,500.40 L583.70,499.72 L585.11,499.07 L586.53,498.44 L587.96,497.83 L589.40,497.24 L590.85,496.67 L592.30,496.13 L593.77,495.60 L595.24,495.11 L596.72,494.63 L598.21,494.19 L599.70,493.76 L601.20,493.36 L602.71,492.99 L604.22,492.64 L605.74,492.32 L607.27,492.02 L608.80,491.76 L610.33,491.52 L611.87,491.30 L613.41,491.12 L614.96,490.96 L616.51,490.83 L618.06,490.73 L619.62,490.66 L621.17,490.62 L622.73,490.61 L624.28,490.62 L625.84,490.66 L627.39,490.74 L628.95,490.83 L630.50,490.96 L632.04,491.12 L633.58,491.30 L635.12,491.52 L636.65,491.76 L638.18,492.03 L639.70,492.32 L641.22,492.65 L642.73,492.99 L644.23,493.36 L645.74,493.74 L647.23,494.15 L648.73,494.57 L650.22,495.01 L651.70,495.47 L653.18,495.94 L654.66,496.42 L656.13,496.90 L657.61,497.40 L659.08,497.91" fill="none" stroke="#cc0000" stroke-width="4.4"/><path d="M669.30,501.50 L652.85,501.61 L658.32,497.69 L656.46,491.22 Z" fill="#cc0000"/>
<line x1="106.50" y1="439.50" x2="106.50" y2="465.10" stroke="#00008b" stroke-width="4.0"/><path d="M106.50,477.00 L101.50,460.00 L106.50,464.25 L111.50,460.00 Z" fill="#00008b"/><path d="M106.50,427.60 L101.50,444.60 L106.50,440.35 L111.50,444.60 Z" fill="#00008b"/><line x1="289.40" y1="451.40" x2="315.20" y2="451.40" stroke="#00008b" stroke-width="4.0"/><path d="M327.10,451.40 L310.10,456.40 L314.35,451.40 L310.10,446.40 Z" fill="#00008b"/><path d="M277.50,451.40 L294.50,456.40 L290.25,451.40 L294.50,446.40 Z" fill="#00008b"/><text transform="translate(34.60,456.60)" font-size="29.5" font-style="italic" stroke="#000" stroke-width="0.3">E <tspan font-style="normal" font-size="0.83em" letter-spacing="-0.03em" dx="-0.09em">||</tspan><tspan dx="0.07em"> z</tspan></text>
<text transform="translate(257.10,484.40)" font-size="29.5" font-style="italic" stroke="#000" stroke-width="0.3">E <tspan font-style="normal" font-size="0.83em" letter-spacing="-0.03em" dx="-0.09em">||</tspan><tspan dx="0.07em"> x,y</tspan></text>
<text transform="translate(123.70,458.00) scale(1.0,1.03)" font-size="28.8" fill="#cc0000" stroke="#cc0000" stroke-width="0.3">(3)</text>
<text transform="translate(282.00,425.30) scale(1.0,1.03)" font-size="28.6" fill="#cc0000" stroke="#cc0000" stroke-width="0.3">(4)</text>
<text transform="translate(451.80,467.60) scale(1.0,1.03)" font-size="28.8" fill="#cc0000" stroke="#cc0000" stroke-width="0.3">(1)</text>
<text transform="translate(598.60,481.40) scale(1.0,1.03)" font-size="28.8" fill="#cc0000" stroke="#cc0000" stroke-width="0.3">(2)</text>
<text transform="translate(68.60,533.20)" font-size="28.8" font-style="italic" stroke="#000" stroke-width="0.3">z</text>
<text transform="translate(127.60,586.80)" font-size="29.5" font-style="italic" stroke="#000" stroke-width="0.3">x,y</text>
<path d="M56.8,536 L56.8,596 L116,596" fill="none" stroke="#000" stroke-width="3.3" stroke-linejoin="miter"/><path d="M56.8,523.2 L52.0,539.5 L56.8,536.5 L61.6,539.5 Z" fill="#000"/><path d="M129.3,596 L113.0,591.2 L116.0,596 L113.0,600.8 Z" fill="#000"/>
</g>
<g id="panel-c">
<clipPath id="cclip"><rect x="920.6" y="20.3" width="624.1" height="508.3"/></clipPath>
<g clip-path="url(#cclip)">
<path d="M920.6,22.3 L922.2,22.4 L923.7,22.4 L925.3,22.5 L926.9,22.5 L928.4,22.5 L930.0,22.6 L931.5,22.6 L933.1,22.6 L934.7,22.6 L936.2,22.7 L937.8,22.7 L939.4,22.7 L940.9,22.7 L942.5,22.7 L944.1,22.7 L945.6,22.7 L947.2,22.7 L948.8,22.7 L950.3,22.7 L951.9,22.7 L953.4,22.7 L955.0,22.7 L956.6,22.7 L958.1,22.7 L959.7,22.7 L961.3,22.7 L962.8,22.7 L964.4,22.7 L966.0,22.7 L967.5,22.7 L969.1,22.6 L970.7,22.6 L972.2,22.6 L973.8,22.6 L975.3,22.6 L976.9,22.6 L978.5,22.6 L980.0,22.6 L981.6,22.5 L983.2,22.5 L984.7,22.5 L986.3,22.5 L987.9,22.5 L989.4,22.5 L991.0,22.5 L992.6,22.5 L994.1,22.5 L995.7,22.5 L997.2,22.5 L998.8,22.5 L1000.4,22.5 L1001.9,22.5 L1003.5,22.5 L1005.1,22.5 L1006.6,22.5 L1008.2,22.5 L1009.8,22.5 L1011.3,22.5 L1012.9,22.5 L1014.4,22.5 L1016.0,22.6 L1017.6,22.6 L1019.1,22.6 L1020.7,22.6 L1022.3,22.7 L1023.8,22.7 L1025.4,22.8 L1027.0,22.8 L1028.5,22.8 L1030.1,22.9 L1031.7,22.9 L1033.2,23.0 L1034.8,23.1 L1036.3,23.1 L1037.9,23.2 L1039.5,23.3 L1041.0,23.3 L1042.6,23.4 L1044.2,23.5 L1045.7,23.6 L1047.3,23.7 L1048.9,23.8 L1050.4,23.9 L1052.0,24.0 L1053.6,24.1 L1055.1,24.3 L1056.7,24.4 L1058.2,24.5 L1059.8,24.7 L1061.4,24.8 L1062.9,24.9 L1064.5,25.1 L1066.1,25.3 L1067.6,25.4 L1069.2,25.6 L1070.8,25.8 L1072.3,26.0 L1073.9,26.2 L1075.5,26.4 L1077.0,26.6 L1078.6,26.8 L1080.1,27.0 L1081.7,27.2 L1083.3,27.5 L1084.8,27.7 L1086.4,27.9 L1088.0,28.2 L1089.5,28.5 L1091.1,28.7 L1092.7,29.0 L1094.2,29.3 L1095.8,29.6 L1097.4,29.9 L1098.9,30.2 L1100.5,30.5 L1102.0,30.9 L1103.6,31.2 L1105.2,31.5 L1106.7,31.9 L1108.3,32.2 L1109.9,32.6 L1111.4,33.0 L1113.0,33.4 L1114.6,33.8 L1116.1,34.2 L1117.7,34.6 L1119.2,35.0 L1120.8,35.5 L1122.4,35.9 L1123.9,36.4 L1125.5,36.8 L1127.1,37.3 L1128.6,37.8 L1130.2,38.3 L1131.8,38.8 L1133.3,39.3 L1134.9,39.8 L1136.5,40.4 L1138.0,40.9 L1139.6,41.5 L1141.1,42.0 L1142.7,42.6 L1144.3,43.2 L1145.8,43.8 L1147.4,44.4 L1149.0,45.0 L1150.5,45.6 L1152.1,46.3 L1153.7,46.9 L1155.2,47.6 L1156.8,48.3 L1158.4,49.0 L1159.9,49.7 L1161.5,50.4 L1163.0,51.1 L1164.6,51.8 L1166.2,52.6 L1167.7,53.3 L1169.3,54.1 L1170.9,54.9 L1172.4,55.7 L1174.0,56.5 L1175.6,57.3 L1177.1,58.1 L1178.7,59.0 L1180.3,59.8 L1181.8,60.7 L1183.4,61.5 L1184.9,62.4 L1186.5,63.3 L1188.1,64.2 L1189.6,65.1 L1191.2,66.0 L1192.8,66.9 L1194.3,67.9 L1195.9,68.8 L1197.5,69.8 L1199.0,70.7 L1200.6,71.7 L1202.1,72.6 L1203.7,73.6 L1205.3,74.6 L1206.8,75.6 L1208.4,76.5 L1210.0,77.5 L1211.5,78.5 L1213.1,79.5 L1214.7,80.5 L1216.2,81.5 L1217.8,82.5 L1219.4,83.6 L1220.9,84.6 L1222.5,85.6 L1224.0,86.6 L1225.6,87.6 L1227.2,88.7 L1228.7,89.7 L1230.3,90.7 L1231.9,91.8 L1233.4,92.8 L1235.0,93.9 L1236.6,94.9 L1238.1,96.0 L1239.7,97.0 L1241.3,98.1 L1242.8,99.1 L1244.4,100.2 L1245.9,101.3 L1247.5,102.3 L1249.1,103.4 L1250.6,104.4 L1252.2,105.5 L1253.8,106.6 L1255.3,107.6 L1256.9,108.7 L1258.5,109.8 L1260.0,110.9 L1261.6,111.9 L1263.2,113.0 L1264.7,114.1 L1266.3,115.1 L1267.8,116.2 L1269.4,117.3 L1271.0,118.4 L1272.5,119.4 L1274.1,120.5 L1275.7,121.6 L1277.2,122.7 L1278.8,123.7 L1280.4,124.8 L1281.9,125.9 L1283.5,127.0 L1285.0,128.0 L1286.6,129.1 L1288.2,130.2 L1289.7,131.2 L1291.3,132.3 L1292.9,133.3 L1294.4,134.4 L1296.0,135.5 L1297.6,136.5 L1299.1,137.6 L1300.7,138.7 L1302.3,139.7 L1303.8,140.8 L1305.4,141.8 L1306.9,142.9 L1308.5,143.9 L1310.1,145.0 L1311.6,146.0 L1313.2,147.1 L1314.8,148.2 L1316.3,149.2 L1317.9,150.3 L1319.5,151.3 L1321.0,152.4 L1322.6,153.4 L1324.2,154.5 L1325.7,155.5 L1327.3,156.6 L1328.8,157.6 L1330.4,158.7 L1332.0,159.7 L1333.5,160.8 L1335.1,161.8 L1336.7,162.9 L1338.2,163.9 L1339.8,165.0 L1341.4,166.0 L1342.9,167.1 L1344.5,168.1 L1346.1,169.2 L1347.6,170.2 L1349.2,171.3 L1350.7,172.3 L1352.3,173.4 L1353.9,174.4 L1355.4,175.5 L1357.0,176.5 L1358.6,177.6 L1360.1,178.6 L1361.7,179.7 L1363.3,180.7 L1364.8,181.8 L1366.4,182.9 L1367.9,183.9 L1369.5,185.0 L1371.1,186.0 L1372.6,187.1 L1374.2,188.1 L1375.8,189.2 L1377.3,190.3 L1378.9,191.3 L1380.5,192.4 L1382.0,193.5 L1383.6,194.5 L1385.2,195.6 L1386.7,196.7 L1388.3,197.7 L1389.8,198.8 L1391.4,199.9 L1393.0,200.9 L1394.5,202.0 L1396.1,203.1 L1397.7,204.2 L1399.2,205.2 L1400.8,206.3 L1402.4,207.4 L1403.9,208.5 L1405.5,209.6 L1407.1,210.6 L1408.6,211.7 L1410.2,212.8 L1411.7,213.9 L1413.3,215.0 L1414.9,216.1 L1416.4,217.2 L1418.0,218.3 L1419.6,219.4 L1421.1,220.5 L1422.7,221.6 L1424.3,222.7 L1425.8,223.8 L1427.4,224.9 L1429.0,226.0 L1430.5,227.1 L1432.1,228.2 L1433.6,229.3 L1435.2,230.4 L1436.8,231.5 L1438.3,232.6 L1439.9,233.8 L1441.5,234.9 L1443.0,236.0 L1444.6,237.1 L1446.2,238.2 L1447.7,239.3 L1449.3,240.4 L1450.9,241.6 L1452.4,242.7 L1454.0,243.8 L1455.5,244.9 L1457.1,246.0 L1458.7,247.1 L1460.2,248.2 L1461.8,249.3 L1463.4,250.4 L1464.9,251.6 L1466.5,252.7 L1468.1,253.8 L1469.6,254.9 L1471.2,256.0 L1472.7,257.1 L1474.3,258.2 L1475.9,259.3 L1477.4,260.4 L1479.0,261.5 L1480.6,262.6 L1482.1,263.6 L1483.7,264.7 L1485.3,265.8 L1486.8,266.9 L1488.4,268.0 L1490.0,269.0 L1491.5,270.1 L1493.1,271.2 L1494.6,272.3 L1496.2,273.3 L1497.8,274.4 L1499.3,275.4 L1500.9,276.5 L1502.5,277.5 L1504.0,278.6 L1505.6,279.6 L1507.2,280.7 L1508.7,281.7 L1510.3,282.7 L1511.9,283.8 L1513.4,284.8 L1515.0,285.8 L1516.5,286.8 L1518.1,287.8 L1519.7,288.8 L1521.2,289.8 L1522.8,290.8 L1524.4,291.8 L1525.9,292.8 L1527.5,293.7 L1529.1,294.7 L1530.6,295.7 L1532.2,296.6 L1533.8,297.6 L1535.3,298.6 L1536.9,299.5 L1538.4,300.5 L1540.0,301.4 L1541.6,302.4 L1543.1,303.3 L1544.7,304.3" fill="none" stroke="#e69f00" stroke-width="2.5" stroke-dasharray="8.8 13.4" stroke-dashoffset="11" stroke-linejoin="round"/>
<path d="M920.6,22.3 L921.9,22.4 L923.1,22.5 L924.4,22.6 L925.7,22.7 L927.0,22.7 L928.2,22.7 L929.5,22.8 L930.8,22.8 L932.1,22.8 L933.3,22.8 L934.6,22.7 L935.9,22.7 L937.1,22.7 L938.4,22.7 L939.7,22.6 L941.0,22.6 L942.2,22.6 L943.5,22.5 L944.8,22.5 L946.1,22.5 L947.3,22.5 L948.6,22.5 L949.9,22.5 L951.2,22.5 L952.4,22.5 L953.7,22.6 L955.0,22.6 L956.2,22.7 L957.5,22.8 L958.8,22.9 L960.1,23.1 L961.3,23.3 L962.6,23.4 L963.9,23.7 L965.2,23.9 L966.4,24.2 L967.7,24.5 L969.0,24.8 L970.2,25.2 L971.5,25.5 L972.8,25.9 L974.1,26.3 L975.3,26.8 L976.6,27.2 L977.9,27.6 L979.2,28.1 L980.4,28.5 L981.7,29.0 L983.0,29.4 L984.2,29.9 L985.5,30.3 L986.8,30.7 L988.1,31.2 L989.3,31.6 L990.6,32.0 L991.9,32.3 L993.2,32.7 L994.4,33.0 L995.7,33.3 L997.0,33.6 L998.2,33.9 L999.5,34.1 L1000.8,34.3 L1002.1,34.5 L1003.3,34.7 L1004.6,34.8 L1005.9,34.9 L1007.2,34.9 L1008.4,34.9 L1009.7,34.9 L1011.0,34.8 L1012.3,34.7 L1013.5,34.6 L1014.8,34.5 L1016.1,34.4 L1017.3,34.3 L1018.6,34.2 L1019.9,34.1 L1021.2,34.1 L1022.4,34.0 L1023.7,34.1 L1025.0,34.1 L1026.3,34.3 L1027.5,34.5 L1028.8,34.7 L1030.1,35.1 L1031.3,35.5 L1032.6,36.0 L1033.9,36.6 L1035.2,37.3 L1036.4,38.1 L1037.7,39.1 L1039.0,40.1 L1040.3,41.3 L1041.5,42.6 L1042.8,44.1 L1044.1,45.7 L1045.3,47.5 L1046.6,49.4 L1047.9,51.6 L1049.2,53.8 L1050.4,56.3 L1051.7,58.9 L1053.0,61.7 L1054.3,64.7 L1055.5,67.8 L1056.8,71.0 L1058.1,74.4 L1059.3,77.9 L1060.6,81.6 L1061.9,85.3 L1063.2,89.2 L1064.4,93.1 L1065.7,97.0 L1067.0,101.0 L1068.3,104.9 L1069.5,108.9 L1070.8,112.8 L1072.1,116.7 L1073.4,120.6 L1074.6,124.4 L1075.9,128.3 L1077.2,132.1 L1078.4,135.9 L1079.7,139.6 L1081.0,143.4 L1082.3,147.2 L1083.5,150.9 L1084.8,154.4 L1086.1,157.8 L1087.4,161.1 L1088.6,164.0 L1089.9,166.7 L1091.2,169.1 L1092.4,171.1 L1093.7,172.8 L1095.0,174.3 L1096.3,175.4 L1097.5,176.2 L1098.8,176.8 L1100.1,177.1 L1101.4,177.2 L1102.6,177.0 L1103.9,176.6 L1105.2,176.0 L1106.4,175.2 L1107.7,174.2 L1109.0,173.0 L1110.3,171.7 L1111.5,170.2 L1112.8,168.6 L1114.1,166.8 L1115.4,165.0 L1116.6,163.1 L1117.9,161.2 L1119.2,159.3 L1120.5,157.4 L1121.7,155.7 L1123.0,154.0 L1124.3,152.5 L1125.5,151.3 L1126.8,150.2 L1128.1,149.4 L1129.4,148.9 L1130.6,148.7 L1131.9,148.9 L1133.2,149.4 L1134.5,150.4 L1135.7,151.8 L1137.0,153.5 L1138.3,155.7 L1139.5,158.3 L1140.8,161.3 L1142.1,164.7 L1143.4,168.5 L1144.6,172.6 L1145.9,177.0 L1147.2,181.6 L1148.5,186.4 L1149.7,191.4 L1151.0,196.5 L1152.3,201.8 L1153.5,207.3 L1154.8,213.0 L1156.1,218.8 L1157.4,224.7 L1158.6,230.8 L1159.9,236.8 L1161.2,242.8 L1162.5,248.7 L1163.7,254.4 L1165.0,259.8 L1166.3,264.8 L1167.5,269.6 L1168.8,274.0 L1170.1,278.0 L1171.4,281.8 L1172.6,285.2 L1173.9,288.4 L1175.2,291.2 L1176.5,293.8 L1177.7,296.1 L1179.0,298.1 L1180.3,299.9 L1181.6,301.4 L1182.8,302.7 L1184.1,303.8 L1185.4,304.7 L1186.6,305.3 L1187.9,305.8 L1189.2,306.1 L1190.5,306.2 L1191.7,306.1 L1193.0,305.9 L1194.3,305.5 L1195.6,305.0 L1196.8,304.3 L1198.1,303.6 L1199.4,302.6 L1200.6,301.6 L1201.9,300.4 L1203.2,299.2 L1204.5,297.8 L1205.7,296.3 L1207.0,294.7 L1208.3,293.1 L1209.6,291.4 L1210.8,289.8 L1212.1,288.2 L1213.4,286.7 L1214.6,285.2 L1215.9,284.0 L1217.2,282.8 L1218.5,281.8 L1219.7,280.8 L1221.0,280.0 L1222.3,279.4 L1223.6,278.8 L1224.8,278.3 L1226.1,278.0 L1227.4,277.7 L1228.6,277.5 L1229.9,277.4 L1231.2,277.4 L1232.5,277.5 L1233.7,277.7 L1235.0,277.9 L1236.3,278.3 L1237.6,278.7 L1238.8,279.1 L1240.1,279.6 L1241.4,280.2 L1242.7,280.8 L1243.9,281.5 L1245.2,282.2 L1246.5,283.0 L1247.7,283.8 L1249.0,284.7 L1250.3,285.6 L1251.6,286.5 L1252.8,287.4 L1254.1,288.4 L1255.4,289.3 L1256.7,290.3 L1257.9,291.3 L1259.2,292.3 L1260.5,293.4 L1261.7,294.4 L1263.0,295.4 L1264.3,296.4 L1265.6,297.4 L1266.8,298.5 L1268.1,299.5 L1269.4,300.4 L1270.7,301.4 L1271.9,302.4 L1273.2,303.3 L1274.5,304.2 L1275.7,305.1 L1277.0,306.0 L1278.3,306.9 L1279.6,307.7 L1280.8,308.6 L1282.1,309.4 L1283.4,310.2 L1284.7,311.0 L1285.9,311.8 L1287.2,312.6 L1288.5,313.4 L1289.8,314.2 L1291.0,314.9 L1292.3,315.7 L1293.6,316.5 L1294.8,317.2 L1296.1,318.0 L1297.4,318.8 L1298.7,319.6 L1299.9,320.4 L1301.2,321.2 L1302.5,322.0 L1303.8,322.8 L1305.0,323.7 L1306.3,324.6 L1307.6,325.5 L1308.8,326.4 L1310.1,327.3 L1311.4,328.3 L1312.7,329.3 L1313.9,330.3 L1315.2,331.4 L1316.5,332.5 L1317.8,333.7 L1319.0,334.8 L1320.3,336.1 L1321.6,337.3 L1322.8,338.6 L1324.1,340.0 L1325.4,341.4 L1326.7,342.8 L1327.9,344.3 L1329.2,345.8 L1330.5,347.2 L1331.8,348.7 L1333.0,350.2 L1334.3,351.7 L1335.6,353.2 L1336.8,354.6 L1338.1,356.0 L1339.4,357.4 L1340.7,358.8 L1341.9,360.1 L1343.2,361.4 L1344.5,362.6 L1345.8,363.9 L1347.0,365.1 L1348.3,366.3 L1349.6,367.5 L1350.9,368.7 L1352.1,369.9 L1353.4,371.2 L1354.7,372.4 L1355.9,373.6 L1357.2,374.9 L1358.5,376.2 L1359.8,377.4 L1361.0,378.7 L1362.3,380.0 L1363.6,381.3 L1364.9,382.6 L1366.1,383.9 L1367.4,385.2 L1368.7,386.5 L1369.9,387.8 L1371.2,389.1 L1372.5,390.4 L1373.8,391.7 L1375.0,393.0 L1376.3,394.3 L1377.6,395.6 L1378.9,396.8 L1380.1,398.1 L1381.4,399.3 L1382.7,400.6 L1383.9,401.8 L1385.2,403.0 L1386.5,404.2 L1387.8,405.4 L1389.0,406.5 L1390.3,407.7 L1391.6,408.8 L1392.9,410.0 L1394.1,411.1 L1395.4,412.2 L1396.7,413.3 L1397.9,414.4 L1399.2,415.5 L1400.5,416.6 L1401.8,417.7 L1403.0,418.7 L1404.3,419.8 L1405.6,420.9 L1406.9,421.9 L1408.1,423.0 L1409.4,424.0 L1410.7,425.1 L1412.0,426.1 L1413.2,427.1 L1414.5,428.2 L1415.8,429.2 L1417.0,430.3 L1418.3,431.3 L1419.6,432.3 L1420.9,433.4 L1422.1,434.4 L1423.4,435.4 L1424.7,436.5 L1426.0,437.5 L1427.2,438.6 L1428.5,439.6" fill="none" stroke="#0072b2" stroke-width="2.5" stroke-dasharray="8.8 13.4" stroke-dashoffset="0" stroke-linejoin="round"/>
<path d="M1428.5,439.6 L1429.5,440.5 L1430.6,441.4 L1431.6,442.2 L1432.6,443.1 L1433.6,444.0 L1434.7,444.8 L1435.7,445.7 L1436.7,446.6 L1437.7,447.5 L1438.8,448.3 L1439.8,449.2 L1440.8,450.1 L1441.8,451.0 L1442.9,451.9 L1443.9,452.8 L1444.9,453.7 L1445.9,454.6 L1447.0,455.5 L1448.0,456.4 L1449.0,457.3 L1450.0,458.2 L1451.1,459.1 L1452.1,460.0 L1453.1,460.9 L1454.1,461.8 L1455.2,462.7 L1456.2,463.6 L1457.2,464.5 L1458.2,465.4 L1459.3,466.3 L1460.3,467.2 L1461.3,468.1 L1462.3,469.0 L1463.4,469.9 L1464.4,470.8 L1465.4,471.7 L1466.4,472.6 L1467.5,473.5 L1468.5,474.4 L1469.5,475.3 L1470.5,476.2 L1471.6,477.1 L1472.6,478.0 L1473.6,478.8 L1474.6,479.7 L1475.7,480.6 L1476.7,481.5 L1477.7,482.3 L1478.7,483.2 L1479.8,484.1 L1480.8,484.9 L1481.8,485.8 L1482.8,486.6 L1483.9,487.5 L1484.9,488.3 L1485.9,489.1 L1486.9,490.0 L1488.0,490.8 L1489.0,491.6 L1490.0,492.4 L1491.0,493.3 L1492.1,494.1 L1493.1,494.9 L1494.1,495.7 L1495.1,496.5 L1496.2,497.3 L1497.2,498.1 L1498.2,498.9 L1499.2,499.7 L1500.3,500.5 L1501.3,501.3 L1502.3,502.1 L1503.3,502.8 L1504.4,503.6 L1505.4,504.4 L1506.4,505.2 L1507.4,506.0 L1508.5,506.7 L1509.5,507.5 L1510.5,508.3 L1511.5,509.0 L1512.6,509.8 L1513.6,510.5 L1514.6,511.3 L1515.6,512.1 L1516.7,512.8 L1517.7,513.6 L1518.7,514.3 L1519.7,515.1 L1520.8,515.8 L1521.8,516.6 L1522.8,517.3 L1523.8,518.0 L1524.9,518.8 L1525.9,519.5 L1526.9,520.3 L1527.9,521.0 L1529.0,521.7 L1530.0,522.5" fill="none" stroke="#0072b2" stroke-width="2.5" stroke-dasharray="20 11.5 8.8 13.4 8.8 13.4 8.8 13.4 8.8 13.4 8.8 13.4 8.8 200" stroke-linejoin="round"/>
<path d="M920.6,22.3 L922.0,22.4 L923.4,22.4 L924.8,22.5 L926.2,22.5 L927.6,22.5 L929.0,22.5 L930.4,22.6 L931.8,22.6 L933.2,22.6 L934.6,22.6 L936.0,22.6 L937.4,22.6 L938.9,22.6 L940.3,22.6 L941.7,22.6 L943.1,22.6 L944.5,22.6 L945.9,22.5 L947.3,22.5 L948.7,22.5 L950.1,22.5 L951.5,22.5 L952.9,22.5 L954.3,22.5 L955.7,22.5 L957.1,22.5 L958.5,22.5 L959.9,22.6 L961.3,22.6 L962.7,22.6 L964.1,22.7 L965.5,22.7 L966.9,22.7 L968.3,22.8 L969.7,22.9 L971.1,22.9 L972.5,23.0 L974.0,23.1 L975.4,23.2 L976.8,23.4 L978.2,23.5 L979.6,23.6 L981.0,23.8 L982.4,23.9 L983.8,24.1 L985.2,24.2 L986.6,24.4 L988.0,24.6 L989.4,24.8 L990.8,24.9 L992.2,25.1 L993.6,25.3 L995.0,25.5 L996.4,25.7 L997.8,25.9 L999.2,26.1 L1000.6,26.3 L1002.0,26.4 L1003.4,26.6 L1004.8,26.8 L1006.2,26.9 L1007.6,27.1 L1009.1,27.3 L1010.5,27.4 L1011.9,27.5 L1013.3,27.7 L1014.7,27.8 L1016.1,27.9 L1017.5,28.0 L1018.9,28.1 L1020.3,28.1 L1021.7,28.2 L1023.1,28.2 L1024.5,28.2 L1025.9,28.3 L1027.3,28.3 L1028.7,28.4 L1030.1,28.4 L1031.5,28.5 L1032.9,28.7 L1034.3,28.8 L1035.7,29.1 L1037.1,29.4 L1038.5,29.7 L1039.9,30.1 L1041.3,30.7 L1042.7,31.3 L1044.2,32.0 L1045.6,32.8 L1047.0,33.7 L1048.4,34.7 L1049.8,35.8 L1051.2,37.1 L1052.6,38.4 L1054.0,39.9 L1055.4,41.4 L1056.8,43.0 L1058.2,44.7 L1059.6,46.5 L1061.0,48.4 L1062.4,50.4 L1063.8,52.4 L1065.2,54.5 L1066.6,56.7 L1068.0,58.9 L1069.4,61.2 L1070.8,63.5 L1072.2,65.9 L1073.6,68.4 L1075.0,70.9 L1076.4,73.4 L1077.8,75.9 L1079.3,78.4 L1080.7,81.0 L1082.1,83.5 L1083.5,86.0 L1084.9,88.5 L1086.3,91.0 L1087.7,93.4 L1089.1,95.8 L1090.5,98.1 L1091.9,100.4 L1093.3,102.6 L1094.7,104.7 L1096.1,106.7 L1097.5,108.6 L1098.9,110.5 L1100.3,112.2 L1101.7,113.8 L1103.1,115.3 L1104.5,116.6 L1105.9,117.9 L1107.3,119.0 L1108.7,120.1 L1110.1,121.0 L1111.5,121.8 L1112.9,122.5 L1114.4,123.1 L1115.8,123.7 L1117.2,124.1 L1118.6,124.4 L1120.0,124.6 L1121.4,124.7 L1122.8,124.8 L1124.2,124.7 L1125.6,124.6 L1127.0,124.5 L1128.4,124.3 L1129.8,124.1 L1131.2,124.0 L1132.6,124.0 L1134.0,124.0 L1135.4,124.2 L1136.8,124.5 L1138.2,125.1 L1139.6,125.8 L1141.0,126.8 L1142.4,128.0 L1143.8,129.5 L1145.2,131.3 L1146.6,133.3 L1148.0,135.4 L1149.5,137.8 L1150.9,140.2 L1152.3,142.7 L1153.7,145.3 L1155.1,147.9 L1156.5,150.5 L1157.9,153.1 L1159.3,155.6 L1160.7,158.2 L1162.1,160.8 L1163.5,163.4 L1164.9,165.9 L1166.3,168.5 L1167.7,171.1 L1169.1,173.7 L1170.5,176.3 L1171.9,178.9 L1173.3,181.5 L1174.7,184.2 L1176.1,186.8 L1177.5,189.5 L1178.9,192.2 L1180.3,194.9 L1181.7,197.6 L1183.1,200.4 L1184.6,203.2 L1186.0,206.0 L1187.4,208.8 L1188.8,211.7 L1190.2,214.5 L1191.6,217.4 L1193.0,220.2 L1194.4,222.9 L1195.8,225.6 L1197.2,228.2 L1198.6,230.8 L1200.0,233.2 L1201.4,235.5 L1202.8,237.7 L1204.2,239.7 L1205.6,241.6 L1207.0,243.4 L1208.4,245.1 L1209.8,246.7 L1211.2,248.2 L1212.6,249.6 L1214.0,250.9 L1215.4,252.1 L1216.8,253.2 L1218.3,254.3 L1219.7,255.3 L1221.1,256.3 L1222.5,257.2 L1223.9,258.0 L1225.3,258.8 L1226.7,259.5 L1228.1,260.2 L1229.5,260.9 L1230.9,261.5 L1232.3,262.1 L1233.7,262.7 L1235.1,263.2 L1236.5,263.8 L1237.9,264.3 L1239.3,264.8 L1240.7,265.2 L1242.1,265.7 L1243.5,266.2 L1244.9,266.7 L1246.3,267.2 L1247.7,267.7 L1249.1,268.2 L1250.5,268.7 L1251.9,269.2 L1253.4,269.8 L1254.8,270.4 L1256.2,271.0 L1257.6,271.7 L1259.0,272.4 L1260.4,273.1 L1261.8,273.9 L1263.2,274.7 L1264.6,275.6 L1266.0,276.5 L1267.4,277.4 L1268.8,278.4 L1270.2,279.4 L1271.6,280.4 L1273.0,281.5 L1274.4,282.7 L1275.8,283.8 L1277.2,285.0 L1278.6,286.3 L1280.0,287.6 L1281.4,288.9 L1282.8,290.3 L1284.2,291.7 L1285.6,293.1 L1287.0,294.6 L1288.5,296.2 L1289.9,297.8 L1291.3,299.4 L1292.7,301.0 L1294.1,302.7 L1295.5,304.5 L1296.9,306.2 L1298.3,308.0 L1299.7,309.9 L1301.1,311.7 L1302.5,313.6 L1303.9,315.5 L1305.3,317.5 L1306.7,319.4 L1308.1,321.4 L1309.5,323.4 L1310.9,325.4 L1312.3,327.4 L1313.7,329.5 L1315.1,331.5 L1316.5,333.6 L1317.9,335.6 L1319.3,337.7 L1320.7,339.8 L1322.1,341.8 L1323.6,343.9 L1325.0,345.9 L1326.4,348.0 L1327.8,350.1 L1329.2,352.1 L1330.6,354.2 L1332.0,356.2 L1333.4,358.2 L1334.8,360.2 L1336.2,362.3 L1337.6,364.3 L1339.0,366.3 L1340.4,368.2 L1341.8,370.2 L1343.2,372.2 L1344.6,374.1 L1346.0,376.1 L1347.4,378.0 L1348.8,379.9 L1350.2,381.8 L1351.6,383.7 L1353.0,385.5 L1354.4,387.4 L1355.8,389.2 L1357.2,391.1 L1358.7,392.9 L1360.1,394.7 L1361.5,396.5 L1362.9,398.4 L1364.3,400.2 L1365.7,402.0 L1367.1,403.8 L1368.5,405.6 L1369.9,407.4 L1371.3,409.2 L1372.7,411.0 L1374.1,412.8 L1375.5,414.6 L1376.9,416.4 L1378.3,418.2 L1379.7,420.0 L1381.1,421.8 L1382.5,423.6 L1383.9,425.4 L1385.3,427.2 L1386.7,429.0 L1388.1,430.8 L1389.5,432.6 L1390.9,434.4 L1392.3,436.2 L1393.8,438.0 L1395.2,439.7 L1396.6,441.5 L1398.0,443.3 L1399.4,445.1 L1400.8,446.9 L1402.2,448.7 L1403.6,450.5 L1405.0,452.3 L1406.4,454.1 L1407.8,455.8 L1409.2,457.6 L1410.6,459.4 L1412.0,461.2 L1413.4,463.0 L1414.8,464.8 L1416.2,466.5 L1417.6,468.3 L1419.0,470.1 L1420.4,471.9 L1421.8,473.7 L1423.2,475.4 L1424.6,477.2 L1426.0,479.0 L1427.4,480.8 L1428.9,482.5 L1430.3,484.3 L1431.7,486.1 L1433.1,487.9 L1434.5,489.6 L1435.9,491.4 L1437.3,493.2 L1438.7,494.9 L1440.1,496.7 L1441.5,498.5 L1442.9,500.3 L1444.3,502.0 L1445.7,503.8 L1447.1,505.6 L1448.5,507.3 L1449.9,509.1 L1451.3,510.9 L1452.7,512.6 L1454.1,514.4 L1455.5,516.2 L1456.9,517.9 L1458.3,519.7 L1459.7,521.5 L1461.1,523.2 L1462.5,525.0 L1464.0,526.8 L1465.4,528.5 L1466.8,530.3 L1468.2,532.0 L1469.6,533.8 L1471.0,535.6 L1472.4,537.3 L1473.8,539.1 L1475.2,540.8 L1476.6,542.6 L1478.0,544.4 L1479.4,546.1 L1480.8,547.9" fill="none" stroke="#e69f00" stroke-width="2.5" stroke-linejoin="round"/>
<path d="M920.6,22.3 L921.8,22.3 L923.0,22.4 L924.1,22.4 L925.3,22.4 L926.5,22.5 L927.7,22.5 L928.9,22.5 L930.0,22.5 L931.2,22.5 L932.4,22.5 L933.6,22.6 L934.8,22.6 L935.9,22.6 L937.1,22.6 L938.3,22.6 L939.5,22.6 L940.7,22.6 L941.8,22.6 L943.0,22.6 L944.2,22.6 L945.4,22.6 L946.5,22.6 L947.7,22.6 L948.9,22.6 L950.1,22.6 L951.3,22.6 L952.4,22.6 L953.6,22.6 L954.8,22.7 L956.0,22.7 L957.2,22.7 L958.3,22.8 L959.5,22.8 L960.7,22.8 L961.9,22.9 L963.1,22.9 L964.2,23.0 L965.4,23.1 L966.6,23.1 L967.8,23.2 L969.0,23.3 L970.1,23.4 L971.3,23.5 L972.5,23.6 L973.7,23.7 L974.9,23.8 L976.0,24.0 L977.2,24.1 L978.4,24.3 L979.6,24.4 L980.8,24.6 L981.9,24.7 L983.1,24.9 L984.3,25.1 L985.5,25.3 L986.6,25.5 L987.8,25.6 L989.0,25.8 L990.2,26.0 L991.4,26.2 L992.5,26.4 L993.7,26.5 L994.9,26.7 L996.1,26.9 L997.3,27.0 L998.4,27.2 L999.6,27.3 L1000.8,27.4 L1002.0,27.6 L1003.2,27.7 L1004.3,27.8 L1005.5,27.9 L1006.7,28.0 L1007.9,28.0 L1009.1,28.1 L1010.2,28.1 L1011.4,28.2 L1012.6,28.2 L1013.8,28.2 L1015.0,28.2 L1016.1,28.2 L1017.3,28.3 L1018.5,28.3 L1019.7,28.3 L1020.9,28.4 L1022.0,28.4 L1023.2,28.5 L1024.4,28.6 L1025.6,28.7 L1026.8,28.8 L1027.9,29.0 L1029.1,29.1 L1030.3,29.4 L1031.5,29.6 L1032.6,29.9 L1033.8,30.2 L1035.0,30.6 L1036.2,31.0 L1037.4,31.4 L1038.5,31.9 L1039.7,32.5 L1040.9,33.1 L1042.1,33.7 L1043.3,34.4 L1044.4,35.2 L1045.6,36.1 L1046.8,37.0 L1048.0,37.9 L1049.2,39.0 L1050.3,40.1 L1051.5,41.3 L1052.7,42.6 L1053.9,43.9 L1055.1,45.3 L1056.2,46.9 L1057.4,48.4 L1058.6,50.1 L1059.8,51.8 L1061.0,53.6 L1062.1,55.4 L1063.3,57.3 L1064.5,59.3 L1065.7,61.3 L1066.9,63.3 L1068.0,65.3 L1069.2,67.4 L1070.4,69.6 L1071.6,71.7 L1072.7,73.8 L1073.9,76.0 L1075.1,78.2 L1076.3,80.4 L1077.5,82.5 L1078.6,84.7 L1079.8,86.9 L1081.0,89.0 L1082.2,91.1 L1083.4,93.2 L1084.5,95.3 L1085.7,97.4 L1086.9,99.4 L1088.1,101.3 L1089.3,103.3 L1090.4,105.1 L1091.6,106.9 L1092.8,108.7 L1094.0,110.4 L1095.2,112.0 L1096.3,113.6 L1097.5,115.1 L1098.7,116.6 L1099.9,118.0 L1101.1,119.3 L1102.2,120.5 L1103.4,121.7 L1104.6,122.8 L1105.8,123.8 L1107.0,124.8 L1108.1,125.6 L1109.3,126.4 L1110.5,127.1 L1111.7,127.7 L1112.9,128.3 L1114.0,128.7 L1115.2,129.1 L1116.4,129.3 L1117.6,129.5 L1118.7,129.6 L1119.9,129.7 L1121.1,129.8 L1122.3,129.8 L1123.5,129.8 L1124.6,129.9 L1125.8,129.9 L1127.0,130.0 L1128.2,130.2 L1129.4,130.4 L1130.5,130.7 L1131.7,131.1 L1132.9,131.6 L1134.1,132.2 L1135.3,132.9 L1136.4,133.8 L1137.6,134.9 L1138.8,136.1 L1140.0,137.5 L1141.2,139.0 L1142.3,140.7 L1143.5,142.5 L1144.7,144.4 L1145.9,146.5 L1147.1,148.7 L1148.2,151.0 L1149.4,153.3 L1150.6,155.8 L1151.8,158.3 L1153.0,161.0 L1154.1,163.7 L1155.3,166.4 L1156.5,169.2 L1157.7,172.0 L1158.8,174.9 L1160.0,177.8 L1161.2,180.7 L1162.4,183.6 L1163.6,186.6 L1164.7,189.6 L1165.9,192.6 L1167.1,195.6 L1168.3,198.6 L1169.5,201.6 L1170.6,204.7 L1171.8,207.7 L1173.0,210.8 L1174.2,213.8 L1175.4,216.9 L1176.5,220.0 L1177.7,223.1 L1178.9,226.1 L1180.1,229.2 L1181.3,232.3 L1182.4,235.3 L1183.6,238.3 L1184.8,241.3 L1186.0,244.2 L1187.2,247.1 L1188.3,250.0 L1189.5,252.8 L1190.7,255.5 L1191.9,258.1 L1193.1,260.7 L1194.2,263.3 L1195.4,265.7 L1196.6,268.1 L1197.8,270.3 L1198.9,272.5 L1200.1,274.6 L1201.3,276.7 L1202.5,278.6 L1203.7,280.4 L1204.8,282.2 L1206.0,283.8 L1207.2,285.4 L1208.4,286.9 L1209.6,288.3 L1210.7,289.6 L1211.9,290.8 L1213.1,292.0 L1214.3,293.2 L1215.5,294.2 L1216.6,295.3 L1217.8,296.3 L1219.0,297.2 L1220.2,298.1 L1221.4,299.0 L1222.5,299.9 L1223.7,300.8 L1224.9,301.6 L1226.1,302.5 L1227.3,303.3 L1228.4,304.2 L1229.6,305.1 L1230.8,305.9 L1232.0,306.9 L1233.2,307.8 L1234.3,308.8 L1235.5,309.7 L1236.7,310.7 L1237.9,311.8 L1239.1,312.9 L1240.2,314.0 L1241.4,315.1 L1242.6,316.3 L1243.8,317.5 L1244.9,318.7 L1246.1,320.0 L1247.3,321.3 L1248.5,322.6 L1249.7,324.0 L1250.8,325.4 L1252.0,326.9 L1253.2,328.4 L1254.4,329.9 L1255.6,331.5 L1256.7,333.1 L1257.9,334.8 L1259.1,336.5 L1260.3,338.3 L1261.5,340.1 L1262.6,341.9 L1263.8,343.7 L1265.0,345.6 L1266.2,347.5 L1267.4,349.4 L1268.5,351.3 L1269.7,353.3 L1270.9,355.2 L1272.1,357.2 L1273.3,359.1 L1274.4,361.0 L1275.6,363.0 L1276.8,364.9 L1278.0,366.8 L1279.2,368.7 L1280.3,370.6 L1281.5,372.5 L1282.7,374.4 L1283.9,376.3 L1285.0,378.2 L1286.2,380.1 L1287.4,382.0 L1288.6,383.8 L1289.8,385.7 L1290.9,387.6 L1292.1,389.4 L1293.3,391.3 L1294.5,393.1 L1295.7,395.0 L1296.8,396.8 L1298.0,398.7 L1299.2,400.5 L1300.4,402.4 L1301.6,404.2 L1302.7,406.0 L1303.9,407.9 L1305.1,409.7 L1306.3,411.5 L1307.5,413.3 L1308.6,415.2 L1309.8,417.0 L1311.0,418.8 L1312.2,420.6 L1313.4,422.4 L1314.5,424.3 L1315.7,426.1 L1316.9,427.9 L1318.1,429.7 L1319.3,431.5 L1320.4,433.3 L1321.6,435.1 L1322.8,437.0 L1324.0,438.8 L1325.2,440.6 L1326.3,442.4 L1327.5,444.2 L1328.7,446.0 L1329.9,447.8 L1331.0,449.7 L1332.2,451.5 L1333.4,453.3 L1334.6,455.1 L1335.8,456.9 L1336.9,458.8 L1338.1,460.6 L1339.3,462.4 L1340.5,464.2 L1341.7,466.1 L1342.8,467.9 L1344.0,469.8 L1345.2,471.6 L1346.4,473.4 L1347.6,475.3 L1348.7,477.2 L1349.9,479.0 L1351.1,480.9 L1352.3,482.8 L1353.5,484.7 L1354.6,486.6 L1355.8,488.5 L1357.0,490.5 L1358.2,492.4 L1359.4,494.4 L1360.5,496.3 L1361.7,498.3 L1362.9,500.4 L1364.1,502.4 L1365.3,504.4 L1366.4,506.5 L1367.6,508.6 L1368.8,510.7 L1370.0,512.8 L1371.1,515.0 L1372.3,517.2 L1373.5,519.4 L1374.7,521.6 L1375.9,523.9 L1377.0,526.2 L1378.2,528.5 L1379.4,530.8 L1380.6,533.2 L1381.8,535.6 L1382.9,537.9 L1384.1,540.3 L1385.3,542.5 L1386.5,544.8 L1387.7,547.0 L1388.8,549.1 L1390.0,551.1 L1391.2,553.0" fill="none" stroke="#0072b2" stroke-width="2.5" stroke-linejoin="round"/>
<path d="M920.60,401.50 L921.73,398.83 L922.86,396.17 L923.99,393.51 L925.12,390.86 L926.25,388.22 L927.37,385.59 L928.50,382.98 L929.63,380.38 L930.76,377.81 L931.89,375.26 L933.02,372.74 L934.15,370.24 L935.28,367.78 L936.41,365.35 L937.54,362.96 L938.66,360.60 L939.79,358.29 L940.92,356.02 L942.05,353.79 L943.18,351.62 L944.31,349.49 L945.44,347.41 L946.57,345.39 L947.70,343.42 L948.83,341.51 L949.95,339.67 L951.08,337.88 L952.21,336.15 L953.34,334.50 L954.47,332.90 L955.60,331.38 L956.73,329.93 L957.86,328.54 L958.99,327.23 L960.12,326.00 L961.24,324.84 L962.37,323.76 L963.50,322.75 L964.63,321.82 L965.76,320.97 L966.89,320.20 L968.02,319.52 L969.15,318.91 L970.28,318.39 L971.41,317.95 L972.54,317.59 L973.66,317.32 L974.79,317.13 L975.92,317.02 L977.05,317.00 L978.18,317.07 L979.31,317.21 L980.44,317.44 L981.57,317.76 L982.70,318.16 L983.83,318.64 L984.95,319.20 L986.08,319.85 L987.21,320.58 L988.34,321.39 L989.47,322.27 L990.60,323.24 L991.73,324.29 L992.86,325.41 L993.99,326.61 L995.12,327.88 L996.24,329.23 L997.37,330.64 L998.50,332.13 L999.63,333.69 L1000.76,335.32 L1001.89,337.01 L1003.02,338.76 L1004.15,340.58 L1005.28,342.46 L1006.41,344.40 L1007.53,346.39 L1008.66,348.44 L1009.79,350.55 L1010.92,352.70 L1012.05,354.90 L1013.18,357.15 L1014.31,359.44 L1015.44,361.78 L1016.57,364.15 L1017.70,366.56 L1018.83,369.01 L1019.95,371.49 L1021.08,374.00 L1022.21,376.53 L1023.34,379.09 L1024.47,381.68 L1025.60,384.28 L1026.73,386.90 L1027.86,389.53 L1028.99,392.18 L1030.12,394.84 L1031.24,397.50 L1032.37,400.17 L1033.50,402.83 L1034.63,405.50 L1035.76,408.16 L1036.89,410.82 L1038.02,413.47 L1039.15,416.10 L1040.28,418.72 L1041.41,421.32 L1042.53,423.91 L1043.66,426.47 L1044.79,429.00 L1045.92,431.51 L1047.05,433.99 L1048.18,436.44 L1049.31,438.85 L1050.44,441.22 L1051.57,443.56 L1052.70,445.85 L1053.82,448.10 L1054.95,450.30 L1056.08,452.45 L1057.21,454.56 L1058.34,456.61 L1059.47,458.60 L1060.60,460.54 L1061.73,462.42 L1062.86,464.24 L1063.99,465.99 L1065.12,467.68 L1066.24,469.31 L1067.37,470.87 L1068.50,472.36 L1069.63,473.77 L1070.76,475.12 L1071.89,476.39 L1073.02,477.59 L1074.15,478.71 L1075.28,479.76 L1076.41,480.73 L1077.53,481.61 L1078.66,482.42 L1079.79,483.15 L1080.92,483.80 L1082.05,484.36 L1083.18,484.84 L1084.31,485.24 L1085.44,485.56 L1086.57,485.79 L1087.70,485.93 L1088.82,486.00 L1089.95,485.98 L1091.08,485.87 L1092.21,485.68 L1093.34,485.41 L1094.47,485.05 L1095.60,484.61 L1096.73,484.09 L1097.86,483.48 L1098.99,482.80 L1100.11,482.03 L1101.24,481.18 L1102.37,480.25 L1103.50,479.24 L1104.63,478.16 L1105.76,477.00 L1106.89,475.77 L1108.02,474.46 L1109.15,473.07 L1110.28,471.62 L1111.41,470.10 L1112.53,468.50 L1113.66,466.85 L1114.79,465.12 L1115.92,463.33 L1117.05,461.49 L1118.18,459.58 L1119.31,457.61 L1120.44,455.59 L1121.57,453.51 L1122.70,451.38 L1123.82,449.21 L1124.95,446.98 L1126.08,444.71 L1127.21,442.40 L1128.34,440.04 L1129.47,437.65 L1130.60,435.22 L1131.73,432.76 L1132.86,430.26 L1133.99,427.74 L1135.11,425.19 L1136.24,422.62 L1137.37,420.02 L1138.50,417.41 L1139.63,414.78 L1140.76,412.14 L1141.89,409.49 L1143.02,406.83 L1144.15,404.17 L1145.28,401.50 L1544.7,401.5" fill="none" stroke="#ff0000" stroke-width="2.5" stroke-linejoin="miter"/>
</g>
<rect x="920.6" y="22.3" width="624.1" height="506.3" fill="none" stroke="#000" stroke-width="2.0"/>
<line x1="1045.42" y1="528.6" x2="1045.42" y2="521.6" stroke="#000" stroke-width="2.0"/>
<line x1="1045.42" y1="22.3" x2="1045.42" y2="29.3" stroke="#000" stroke-width="2.0"/>
<line x1="1170.24" y1="528.6" x2="1170.24" y2="521.6" stroke="#000" stroke-width="2.0"/>
<line x1="1170.24" y1="22.3" x2="1170.24" y2="29.3" stroke="#000" stroke-width="2.0"/>
<line x1="1295.06" y1="528.6" x2="1295.06" y2="521.6" stroke="#000" stroke-width="2.0"/>
<line x1="1295.06" y1="22.3" x2="1295.06" y2="29.3" stroke="#000" stroke-width="2.0"/>
<line x1="1419.88" y1="528.6" x2="1419.88" y2="521.6" stroke="#000" stroke-width="2.0"/>
<line x1="1419.88" y1="22.3" x2="1419.88" y2="29.3" stroke="#000" stroke-width="2.0"/>
<line x1="920.6" y1="359.83" x2="927.6" y2="359.83" stroke="#000" stroke-width="2.0"/>
<line x1="1544.7" y1="359.83" x2="1537.7" y2="359.83" stroke="#000" stroke-width="2.0"/>
<line x1="920.6" y1="191.07" x2="927.6" y2="191.07" stroke="#000" stroke-width="2.0"/>
<line x1="1544.7" y1="191.07" x2="1537.7" y2="191.07" stroke="#000" stroke-width="2.0"/>
<text transform="translate(920.60,561.80) scale(1.0,1.03)" font-size="29" text-anchor="middle" stroke="#000" stroke-width="0.3">0</text>

<text transform="translate(1045.42,561.80) scale(1.0,1.03)" font-size="29" text-anchor="middle" stroke="#000" stroke-width="0.3">1</text>

<text transform="translate(1170.24,561.80) scale(1.0,1.03)" font-size="29" text-anchor="middle" stroke="#000" stroke-width="0.3">2</text>

<text transform="translate(1295.06,561.80) scale(1.0,1.03)" font-size="29" text-anchor="middle" stroke="#000" stroke-width="0.3">3</text>

<text transform="translate(1419.88,561.80) scale(1.0,1.03)" font-size="29" text-anchor="middle" stroke="#000" stroke-width="0.3">4</text>

<text transform="translate(1544.70,561.80) scale(1.0,1.03)" font-size="29" text-anchor="middle" stroke="#000" stroke-width="0.3">5</text>

<text transform="translate(908.00,32.30) scale(1.0,1.03)" font-size="29" text-anchor="end" stroke="#000" stroke-width="0.3">1</text>

<text transform="translate(908.00,201.07) scale(1.0,1.03)" font-size="29" text-anchor="end" stroke="#000" stroke-width="0.3">0.98</text>

<text transform="translate(908.00,369.83) scale(1.0,1.03)" font-size="29" text-anchor="end" stroke="#000" stroke-width="0.3">0.96</text>

<text transform="translate(908.00,538.60) scale(1.0,1.03)" font-size="29" text-anchor="end" stroke="#000" stroke-width="0.3">0.94</text>

<text transform="translate(803.40,22.60) scale(1.04,1.03)" font-size="40.5" font-weight="bold">c</text>
<text transform="translate(827.60,268.00) rotate(-90) scale(1.0,1.03)" font-size="29.5" text-anchor="middle" stroke="#000" stroke-width="0.3">Normalized order</text>
<text transform="translate(1235.00,598.50)" font-size="29.5" text-anchor="middle" font-style="italic" stroke="#000" stroke-width="0.3">t</text>
<text transform="translate(940.60,278.30) scale(1.0,1.03)" font-size="24.7" stroke="#000" stroke-width="0.3"><tspan font-style="italic">E</tspan>-pulse (arb. units)</text>
<line x1="1045.4" y1="300.4" x2="1045.4" y2="376" stroke="#000" stroke-width="3.3"/><path d="M1045.4,386 L1040.1,371.2 L1045.4,374 L1050.7,371.2 Z" fill="#000"/><text transform="translate(1447.20,53.90)" font-size="25" text-anchor="end" font-style="italic" stroke="#000" stroke-width="0.3">X<tspan font-size="19" dy="6.5" dx="0.5" font-style="normal">3</tspan><tspan dy="-6.5" dx="0.5">, E </tspan><tspan font-style="normal" font-size="0.83em" letter-spacing="-0.03em" dx="-0.09em">||</tspan><tspan dx="0.07em"> x,y</tspan></text>
<text transform="translate(1447.20,88.30)" font-size="25" text-anchor="end" font-style="italic" stroke="#000" stroke-width="0.3">E <tspan font-style="normal" font-size="0.83em" letter-spacing="-0.03em" dx="-0.09em">||</tspan><tspan dx="0.07em"> z</tspan></text>
<text transform="translate(1447.20,122.90)" font-size="25" text-anchor="end" font-style="italic" stroke="#000" stroke-width="0.3">S<tspan font-size="19" dy="6.5" dx="0.5">z</tspan><tspan dy="-6.5" dx="0.5">, E </tspan><tspan font-style="normal" font-size="0.83em" letter-spacing="-0.03em" dx="-0.09em">||</tspan><tspan dx="0.07em"> x,y</tspan></text>
<text transform="translate(1447.20,157.70)" font-size="25" text-anchor="end" font-style="italic" stroke="#000" stroke-width="0.3">E <tspan font-style="normal" font-size="0.83em" letter-spacing="-0.03em" dx="-0.09em">||</tspan><tspan dx="0.07em"> z</tspan></text>
<line x1="1457.5" y1="47.8" x2="1533.8" y2="47.8" stroke="#e69f00" stroke-width="2.5"/><line x1="1457.5" y1="82.6" x2="1533.8" y2="82.6" stroke="#0072b2" stroke-width="2.5"/><line x1="1457.5" y1="116.9" x2="1533.8" y2="116.9" stroke="#e69f00" stroke-width="2.5" stroke-dasharray="8.8 13.4"/><line x1="1457.5" y1="151.4" x2="1533.8" y2="151.4" stroke="#0072b2" stroke-width="2.5" stroke-dasharray="8.8 13.4"/>
</g>
</svg>
</body></html>
